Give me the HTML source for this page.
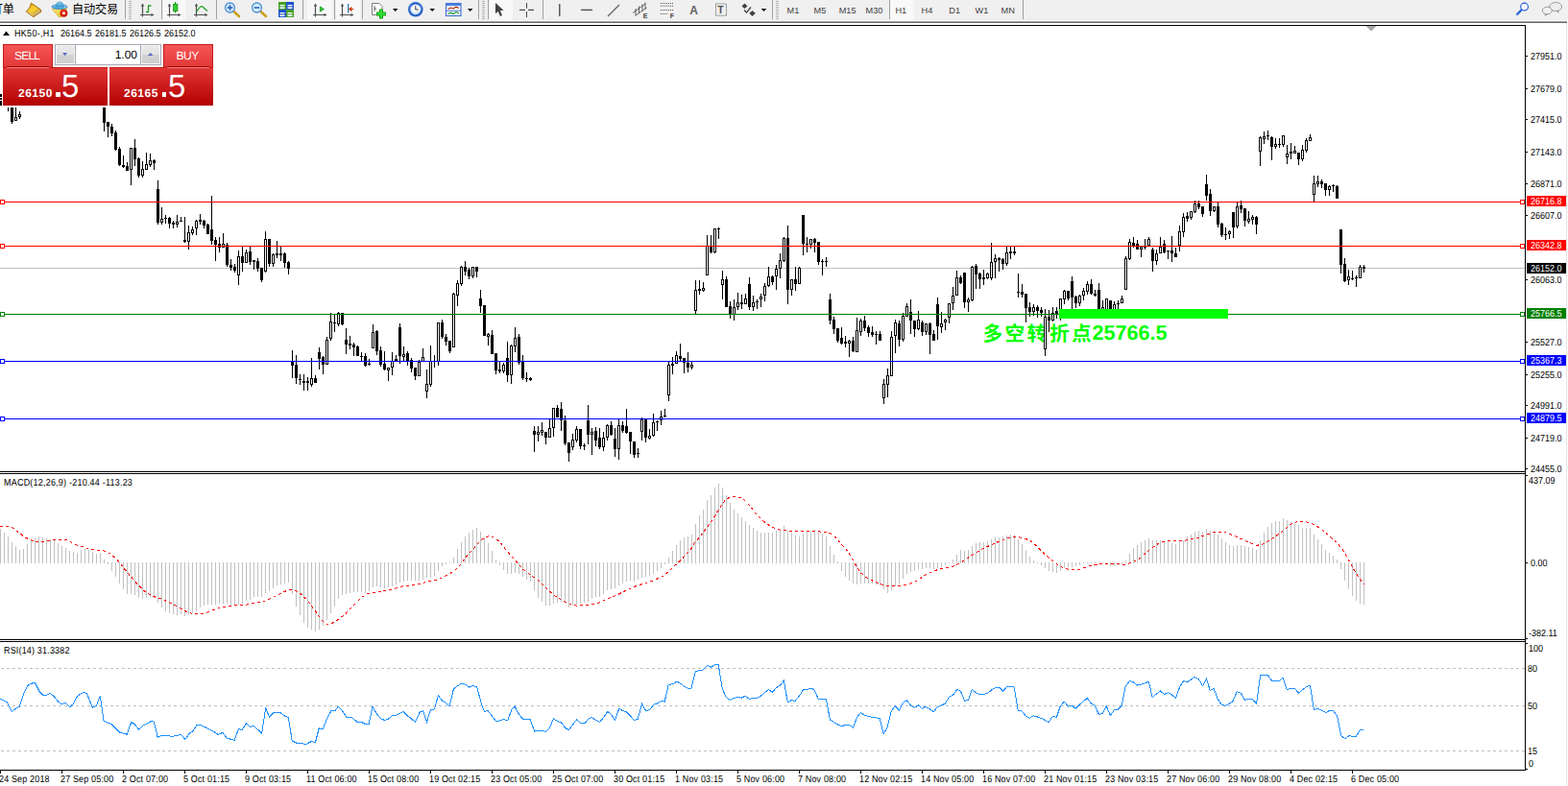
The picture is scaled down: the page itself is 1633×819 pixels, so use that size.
<!DOCTYPE html>
<html><head><meta charset="utf-8"><title>HK50-,H1</title>
<style>
html,body{margin:0;padding:0;background:#fff;}
body{width:1633px;height:819px;position:relative;overflow:hidden;font-family:"Liberation Sans", sans-serif;}
.t{position:absolute;white-space:pre;font-family:"Liberation Sans", sans-serif;font-size:10.2px;line-height:9px;color:#000;transform:scaleX(0.882);transform-origin:0 0;text-rendering:geometricPrecision;}
.n{transform:none;}
.ax{left:1594px;}
svg{position:absolute;left:0;top:0;}
.lb{position:absolute;left:1590px;width:41px;height:11px;color:#fff;font-size:10.2px;line-height:9px;text-rendering:geometricPrecision;}
.lb span{position:absolute;left:4px;top:2px;transform:scaleX(0.882);transform-origin:0 0;}
</style></head><body>

<div style="position:absolute;left:0;top:0;width:1633px;height:22px;background:#f0f0f0"></div>
<div style="position:absolute;left:0;top:21px;width:1633px;height:1px;background:#f6f6f6"></div>
<div style="position:absolute;left:0;top:22px;width:1632px;height:1px;background:#a4a4a4"></div>
<div style="position:absolute;left:0;top:23px;width:1632px;height:1px;background:#696969"></div>
<svg width="1633" height="819" viewBox="0 0 1633 819">
<text x="1023.4 1046.5 1069.6 1093.1 1116.1" y="354.5" font-family='"Liberation Sans", "Noto Sans CJK SC", sans-serif' font-size="20.7" font-weight="bold" fill="#00ff00">多空转折点</text>
</svg>
<div class="t n" style="left:1137.4px;top:334.6px;font-size:21.6px;line-height:24px;font-weight:bold;color:#00ff00">25766.5</div>
<svg width="1633" height="819" viewBox="0 0 1633 819" shape-rendering="crispEdges">
<rect x="0" y="551" width="1" height="36" fill="#c0c0c0"/>
<rect x="4" y="555" width="1" height="32" fill="#c0c0c0"/>
<rect x="8" y="559" width="1" height="28" fill="#c0c0c0"/>
<rect x="12" y="565" width="1" height="22" fill="#c0c0c0"/>
<rect x="16" y="569" width="1" height="18" fill="#c0c0c0"/>
<rect x="20" y="573" width="1" height="14" fill="#c0c0c0"/>
<rect x="24" y="572" width="1" height="15" fill="#c0c0c0"/>
<rect x="28" y="567" width="1" height="20" fill="#c0c0c0"/>
<rect x="32" y="563" width="1" height="24" fill="#c0c0c0"/>
<rect x="36" y="560" width="1" height="27" fill="#c0c0c0"/>
<rect x="40" y="559" width="1" height="28" fill="#c0c0c0"/>
<rect x="44" y="560" width="1" height="27" fill="#c0c0c0"/>
<rect x="48" y="561" width="1" height="26" fill="#c0c0c0"/>
<rect x="52" y="562" width="1" height="25" fill="#c0c0c0"/>
<rect x="56" y="563" width="1" height="24" fill="#c0c0c0"/>
<rect x="60" y="566" width="1" height="21" fill="#c0c0c0"/>
<rect x="64" y="569" width="1" height="18" fill="#c0c0c0"/>
<rect x="68" y="571" width="1" height="16" fill="#c0c0c0"/>
<rect x="72" y="574" width="1" height="13" fill="#c0c0c0"/>
<rect x="76" y="575" width="1" height="12" fill="#c0c0c0"/>
<rect x="80" y="576" width="1" height="11" fill="#c0c0c0"/>
<rect x="84" y="573" width="1" height="14" fill="#c0c0c0"/>
<rect x="88" y="572" width="1" height="15" fill="#c0c0c0"/>
<rect x="92" y="573" width="1" height="14" fill="#c0c0c0"/>
<rect x="96" y="575" width="1" height="12" fill="#c0c0c0"/>
<rect x="100" y="577" width="1" height="10" fill="#c0c0c0"/>
<rect x="104" y="576" width="1" height="11" fill="#c0c0c0"/>
<rect x="108" y="583" width="1" height="4" fill="#c0c0c0"/>
<rect x="112" y="586" width="1" height="2" fill="#c0c0c0"/>
<rect x="116" y="586" width="1" height="9" fill="#c0c0c0"/>
<rect x="120" y="586" width="1" height="15" fill="#c0c0c0"/>
<rect x="124" y="586" width="1" height="22" fill="#c0c0c0"/>
<rect x="128" y="586" width="1" height="28" fill="#c0c0c0"/>
<rect x="132" y="586" width="1" height="33" fill="#c0c0c0"/>
<rect x="136" y="586" width="1" height="33" fill="#c0c0c0"/>
<rect x="140" y="586" width="1" height="34" fill="#c0c0c0"/>
<rect x="144" y="586" width="1" height="37" fill="#c0c0c0"/>
<rect x="148" y="586" width="1" height="38" fill="#c0c0c0"/>
<rect x="152" y="586" width="1" height="37" fill="#c0c0c0"/>
<rect x="156" y="586" width="1" height="36" fill="#c0c0c0"/>
<rect x="160" y="586" width="1" height="36" fill="#c0c0c0"/>
<rect x="164" y="586" width="1" height="42" fill="#c0c0c0"/>
<rect x="168" y="586" width="1" height="47" fill="#c0c0c0"/>
<rect x="172" y="586" width="1" height="51" fill="#c0c0c0"/>
<rect x="176" y="586" width="1" height="53" fill="#c0c0c0"/>
<rect x="180" y="586" width="1" height="54" fill="#c0c0c0"/>
<rect x="184" y="586" width="1" height="55" fill="#c0c0c0"/>
<rect x="188" y="586" width="1" height="54" fill="#c0c0c0"/>
<rect x="192" y="586" width="1" height="56" fill="#c0c0c0"/>
<rect x="196" y="586" width="1" height="54" fill="#c0c0c0"/>
<rect x="200" y="586" width="1" height="53" fill="#c0c0c0"/>
<rect x="204" y="586" width="1" height="51" fill="#c0c0c0"/>
<rect x="208" y="586" width="1" height="47" fill="#c0c0c0"/>
<rect x="212" y="586" width="1" height="45" fill="#c0c0c0"/>
<rect x="216" y="586" width="1" height="44" fill="#c0c0c0"/>
<rect x="220" y="586" width="1" height="44" fill="#c0c0c0"/>
<rect x="224" y="586" width="1" height="44" fill="#c0c0c0"/>
<rect x="228" y="586" width="1" height="43" fill="#c0c0c0"/>
<rect x="232" y="586" width="1" height="43" fill="#c0c0c0"/>
<rect x="236" y="586" width="1" height="43" fill="#c0c0c0"/>
<rect x="240" y="586" width="1" height="45" fill="#c0c0c0"/>
<rect x="244" y="586" width="1" height="45" fill="#c0c0c0"/>
<rect x="248" y="586" width="1" height="44" fill="#c0c0c0"/>
<rect x="252" y="586" width="1" height="43" fill="#c0c0c0"/>
<rect x="256" y="586" width="1" height="40" fill="#c0c0c0"/>
<rect x="260" y="586" width="1" height="39" fill="#c0c0c0"/>
<rect x="264" y="586" width="1" height="36" fill="#c0c0c0"/>
<rect x="268" y="586" width="1" height="36" fill="#c0c0c0"/>
<rect x="272" y="586" width="1" height="36" fill="#c0c0c0"/>
<rect x="276" y="586" width="1" height="32" fill="#c0c0c0"/>
<rect x="280" y="586" width="1" height="30" fill="#c0c0c0"/>
<rect x="284" y="586" width="1" height="27" fill="#c0c0c0"/>
<rect x="288" y="586" width="1" height="24" fill="#c0c0c0"/>
<rect x="292" y="586" width="1" height="23" fill="#c0c0c0"/>
<rect x="296" y="586" width="1" height="22" fill="#c0c0c0"/>
<rect x="300" y="586" width="1" height="21" fill="#c0c0c0"/>
<rect x="304" y="586" width="1" height="33" fill="#c0c0c0"/>
<rect x="308" y="586" width="1" height="46" fill="#c0c0c0"/>
<rect x="312" y="586" width="1" height="55" fill="#c0c0c0"/>
<rect x="316" y="586" width="1" height="63" fill="#c0c0c0"/>
<rect x="320" y="586" width="1" height="68" fill="#c0c0c0"/>
<rect x="324" y="586" width="1" height="70" fill="#c0c0c0"/>
<rect x="328" y="586" width="1" height="72" fill="#c0c0c0"/>
<rect x="332" y="586" width="1" height="70" fill="#c0c0c0"/>
<rect x="336" y="586" width="1" height="66" fill="#c0c0c0"/>
<rect x="340" y="586" width="1" height="60" fill="#c0c0c0"/>
<rect x="344" y="586" width="1" height="53" fill="#c0c0c0"/>
<rect x="348" y="586" width="1" height="46" fill="#c0c0c0"/>
<rect x="352" y="586" width="1" height="38" fill="#c0c0c0"/>
<rect x="356" y="586" width="1" height="34" fill="#c0c0c0"/>
<rect x="360" y="586" width="1" height="33" fill="#c0c0c0"/>
<rect x="364" y="586" width="1" height="32" fill="#c0c0c0"/>
<rect x="368" y="586" width="1" height="31" fill="#c0c0c0"/>
<rect x="372" y="586" width="1" height="31" fill="#c0c0c0"/>
<rect x="376" y="586" width="1" height="31" fill="#c0c0c0"/>
<rect x="380" y="586" width="1" height="32" fill="#c0c0c0"/>
<rect x="384" y="586" width="1" height="30" fill="#c0c0c0"/>
<rect x="388" y="586" width="1" height="26" fill="#c0c0c0"/>
<rect x="392" y="586" width="1" height="25" fill="#c0c0c0"/>
<rect x="396" y="586" width="1" height="26" fill="#c0c0c0"/>
<rect x="400" y="586" width="1" height="27" fill="#c0c0c0"/>
<rect x="404" y="586" width="1" height="26" fill="#c0c0c0"/>
<rect x="408" y="586" width="1" height="25" fill="#c0c0c0"/>
<rect x="412" y="586" width="1" height="23" fill="#c0c0c0"/>
<rect x="416" y="586" width="1" height="21" fill="#c0c0c0"/>
<rect x="420" y="586" width="1" height="20" fill="#c0c0c0"/>
<rect x="424" y="586" width="1" height="19" fill="#c0c0c0"/>
<rect x="428" y="586" width="1" height="19" fill="#c0c0c0"/>
<rect x="432" y="586" width="1" height="19" fill="#c0c0c0"/>
<rect x="436" y="586" width="1" height="19" fill="#c0c0c0"/>
<rect x="440" y="586" width="1" height="18" fill="#c0c0c0"/>
<rect x="444" y="586" width="1" height="16" fill="#c0c0c0"/>
<rect x="448" y="586" width="1" height="16" fill="#c0c0c0"/>
<rect x="452" y="586" width="1" height="14" fill="#c0c0c0"/>
<rect x="456" y="586" width="1" height="9" fill="#c0c0c0"/>
<rect x="460" y="586" width="1" height="4" fill="#c0c0c0"/>
<rect x="464" y="586" width="1" height="2" fill="#c0c0c0"/>
<rect x="468" y="586" width="1" height="1" fill="#c0c0c0"/>
<rect x="472" y="581" width="1" height="6" fill="#c0c0c0"/>
<rect x="476" y="572" width="1" height="15" fill="#c0c0c0"/>
<rect x="480" y="565" width="1" height="22" fill="#c0c0c0"/>
<rect x="484" y="559" width="1" height="28" fill="#c0c0c0"/>
<rect x="488" y="555" width="1" height="32" fill="#c0c0c0"/>
<rect x="492" y="552" width="1" height="35" fill="#c0c0c0"/>
<rect x="496" y="550" width="1" height="37" fill="#c0c0c0"/>
<rect x="500" y="554" width="1" height="33" fill="#c0c0c0"/>
<rect x="504" y="560" width="1" height="27" fill="#c0c0c0"/>
<rect x="508" y="566" width="1" height="21" fill="#c0c0c0"/>
<rect x="512" y="574" width="1" height="13" fill="#c0c0c0"/>
<rect x="516" y="583" width="1" height="4" fill="#c0c0c0"/>
<rect x="520" y="586" width="1" height="3" fill="#c0c0c0"/>
<rect x="524" y="586" width="1" height="8" fill="#c0c0c0"/>
<rect x="528" y="586" width="1" height="12" fill="#c0c0c0"/>
<rect x="532" y="586" width="1" height="12" fill="#c0c0c0"/>
<rect x="536" y="586" width="1" height="11" fill="#c0c0c0"/>
<rect x="540" y="586" width="1" height="12" fill="#c0c0c0"/>
<rect x="544" y="586" width="1" height="15" fill="#c0c0c0"/>
<rect x="548" y="586" width="1" height="18" fill="#c0c0c0"/>
<rect x="552" y="586" width="1" height="20" fill="#c0c0c0"/>
<rect x="556" y="586" width="1" height="29" fill="#c0c0c0"/>
<rect x="560" y="586" width="1" height="37" fill="#c0c0c0"/>
<rect x="564" y="586" width="1" height="41" fill="#c0c0c0"/>
<rect x="568" y="586" width="1" height="45" fill="#c0c0c0"/>
<rect x="572" y="586" width="1" height="45" fill="#c0c0c0"/>
<rect x="576" y="586" width="1" height="43" fill="#c0c0c0"/>
<rect x="580" y="586" width="1" height="42" fill="#c0c0c0"/>
<rect x="584" y="586" width="1" height="41" fill="#c0c0c0"/>
<rect x="588" y="586" width="1" height="43" fill="#c0c0c0"/>
<rect x="592" y="586" width="1" height="47" fill="#c0c0c0"/>
<rect x="596" y="586" width="1" height="45" fill="#c0c0c0"/>
<rect x="600" y="586" width="1" height="44" fill="#c0c0c0"/>
<rect x="604" y="586" width="1" height="43" fill="#c0c0c0"/>
<rect x="608" y="586" width="1" height="42" fill="#c0c0c0"/>
<rect x="612" y="586" width="1" height="41" fill="#c0c0c0"/>
<rect x="616" y="586" width="1" height="38" fill="#c0c0c0"/>
<rect x="620" y="586" width="1" height="36" fill="#c0c0c0"/>
<rect x="624" y="586" width="1" height="36" fill="#c0c0c0"/>
<rect x="628" y="586" width="1" height="33" fill="#c0c0c0"/>
<rect x="632" y="586" width="1" height="29" fill="#c0c0c0"/>
<rect x="636" y="586" width="1" height="28" fill="#c0c0c0"/>
<rect x="640" y="586" width="1" height="27" fill="#c0c0c0"/>
<rect x="644" y="586" width="1" height="24" fill="#c0c0c0"/>
<rect x="648" y="586" width="1" height="22" fill="#c0c0c0"/>
<rect x="652" y="586" width="1" height="20" fill="#c0c0c0"/>
<rect x="656" y="586" width="1" height="19" fill="#c0c0c0"/>
<rect x="660" y="586" width="1" height="20" fill="#c0c0c0"/>
<rect x="664" y="586" width="1" height="18" fill="#c0c0c0"/>
<rect x="668" y="586" width="1" height="16" fill="#c0c0c0"/>
<rect x="672" y="586" width="1" height="15" fill="#c0c0c0"/>
<rect x="676" y="586" width="1" height="14" fill="#c0c0c0"/>
<rect x="680" y="586" width="1" height="12" fill="#c0c0c0"/>
<rect x="684" y="586" width="1" height="9" fill="#c0c0c0"/>
<rect x="688" y="586" width="1" height="6" fill="#c0c0c0"/>
<rect x="692" y="586" width="1" height="2" fill="#c0c0c0"/>
<rect x="696" y="581" width="1" height="6" fill="#c0c0c0"/>
<rect x="700" y="574" width="1" height="13" fill="#c0c0c0"/>
<rect x="704" y="568" width="1" height="19" fill="#c0c0c0"/>
<rect x="708" y="563" width="1" height="24" fill="#c0c0c0"/>
<rect x="712" y="560" width="1" height="27" fill="#c0c0c0"/>
<rect x="716" y="559" width="1" height="28" fill="#c0c0c0"/>
<rect x="720" y="557" width="1" height="30" fill="#c0c0c0"/>
<rect x="724" y="546" width="1" height="41" fill="#c0c0c0"/>
<rect x="728" y="537" width="1" height="50" fill="#c0c0c0"/>
<rect x="732" y="531" width="1" height="56" fill="#c0c0c0"/>
<rect x="736" y="521" width="1" height="66" fill="#c0c0c0"/>
<rect x="740" y="516" width="1" height="71" fill="#c0c0c0"/>
<rect x="744" y="508" width="1" height="79" fill="#c0c0c0"/>
<rect x="748" y="504" width="1" height="83" fill="#c0c0c0"/>
<rect x="752" y="508" width="1" height="79" fill="#c0c0c0"/>
<rect x="756" y="516" width="1" height="71" fill="#c0c0c0"/>
<rect x="760" y="524" width="1" height="63" fill="#c0c0c0"/>
<rect x="764" y="531" width="1" height="56" fill="#c0c0c0"/>
<rect x="768" y="535" width="1" height="52" fill="#c0c0c0"/>
<rect x="772" y="539" width="1" height="48" fill="#c0c0c0"/>
<rect x="776" y="543" width="1" height="44" fill="#c0c0c0"/>
<rect x="780" y="547" width="1" height="40" fill="#c0c0c0"/>
<rect x="784" y="550" width="1" height="37" fill="#c0c0c0"/>
<rect x="788" y="553" width="1" height="34" fill="#c0c0c0"/>
<rect x="792" y="555" width="1" height="32" fill="#c0c0c0"/>
<rect x="796" y="555" width="1" height="32" fill="#c0c0c0"/>
<rect x="800" y="555" width="1" height="32" fill="#c0c0c0"/>
<rect x="804" y="555" width="1" height="32" fill="#c0c0c0"/>
<rect x="808" y="553" width="1" height="34" fill="#c0c0c0"/>
<rect x="812" y="552" width="1" height="35" fill="#c0c0c0"/>
<rect x="816" y="548" width="1" height="39" fill="#c0c0c0"/>
<rect x="820" y="553" width="1" height="34" fill="#c0c0c0"/>
<rect x="824" y="555" width="1" height="32" fill="#c0c0c0"/>
<rect x="828" y="558" width="1" height="29" fill="#c0c0c0"/>
<rect x="832" y="559" width="1" height="28" fill="#c0c0c0"/>
<rect x="836" y="556" width="1" height="31" fill="#c0c0c0"/>
<rect x="840" y="554" width="1" height="33" fill="#c0c0c0"/>
<rect x="844" y="553" width="1" height="34" fill="#c0c0c0"/>
<rect x="848" y="552" width="1" height="35" fill="#c0c0c0"/>
<rect x="852" y="554" width="1" height="33" fill="#c0c0c0"/>
<rect x="856" y="556" width="1" height="31" fill="#c0c0c0"/>
<rect x="860" y="559" width="1" height="28" fill="#c0c0c0"/>
<rect x="864" y="569" width="1" height="18" fill="#c0c0c0"/>
<rect x="868" y="578" width="1" height="9" fill="#c0c0c0"/>
<rect x="872" y="585" width="1" height="2" fill="#c0c0c0"/>
<rect x="876" y="586" width="1" height="9" fill="#c0c0c0"/>
<rect x="880" y="586" width="1" height="15" fill="#c0c0c0"/>
<rect x="884" y="586" width="1" height="19" fill="#c0c0c0"/>
<rect x="888" y="586" width="1" height="22" fill="#c0c0c0"/>
<rect x="892" y="586" width="1" height="23" fill="#c0c0c0"/>
<rect x="896" y="586" width="1" height="22" fill="#c0c0c0"/>
<rect x="900" y="586" width="1" height="22" fill="#c0c0c0"/>
<rect x="904" y="586" width="1" height="22" fill="#c0c0c0"/>
<rect x="908" y="586" width="1" height="22" fill="#c0c0c0"/>
<rect x="912" y="586" width="1" height="23" fill="#c0c0c0"/>
<rect x="916" y="586" width="1" height="24" fill="#c0c0c0"/>
<rect x="920" y="586" width="1" height="28" fill="#c0c0c0"/>
<rect x="924" y="586" width="1" height="32" fill="#c0c0c0"/>
<rect x="928" y="586" width="1" height="29" fill="#c0c0c0"/>
<rect x="932" y="586" width="1" height="25" fill="#c0c0c0"/>
<rect x="936" y="586" width="1" height="22" fill="#c0c0c0"/>
<rect x="940" y="586" width="1" height="17" fill="#c0c0c0"/>
<rect x="944" y="586" width="1" height="12" fill="#c0c0c0"/>
<rect x="948" y="586" width="1" height="10" fill="#c0c0c0"/>
<rect x="952" y="586" width="1" height="9" fill="#c0c0c0"/>
<rect x="956" y="586" width="1" height="7" fill="#c0c0c0"/>
<rect x="960" y="586" width="1" height="7" fill="#c0c0c0"/>
<rect x="964" y="586" width="1" height="6" fill="#c0c0c0"/>
<rect x="968" y="586" width="1" height="6" fill="#c0c0c0"/>
<rect x="972" y="586" width="1" height="7" fill="#c0c0c0"/>
<rect x="976" y="586" width="1" height="6" fill="#c0c0c0"/>
<rect x="980" y="586" width="1" height="5" fill="#c0c0c0"/>
<rect x="984" y="586" width="1" height="3" fill="#c0c0c0"/>
<rect x="988" y="586" width="1" height="1" fill="#c0c0c0"/>
<rect x="992" y="583" width="1" height="4" fill="#c0c0c0"/>
<rect x="996" y="578" width="1" height="9" fill="#c0c0c0"/>
<rect x="1000" y="573" width="1" height="14" fill="#c0c0c0"/>
<rect x="1004" y="574" width="1" height="13" fill="#c0c0c0"/>
<rect x="1008" y="573" width="1" height="14" fill="#c0c0c0"/>
<rect x="1012" y="569" width="1" height="18" fill="#c0c0c0"/>
<rect x="1016" y="566" width="1" height="21" fill="#c0c0c0"/>
<rect x="1020" y="565" width="1" height="22" fill="#c0c0c0"/>
<rect x="1024" y="565" width="1" height="22" fill="#c0c0c0"/>
<rect x="1028" y="564" width="1" height="23" fill="#c0c0c0"/>
<rect x="1032" y="562" width="1" height="25" fill="#c0c0c0"/>
<rect x="1036" y="560" width="1" height="27" fill="#c0c0c0"/>
<rect x="1040" y="560" width="1" height="27" fill="#c0c0c0"/>
<rect x="1044" y="559" width="1" height="28" fill="#c0c0c0"/>
<rect x="1048" y="558" width="1" height="29" fill="#c0c0c0"/>
<rect x="1052" y="557" width="1" height="30" fill="#c0c0c0"/>
<rect x="1056" y="557" width="1" height="30" fill="#c0c0c0"/>
<rect x="1060" y="562" width="1" height="25" fill="#c0c0c0"/>
<rect x="1064" y="567" width="1" height="20" fill="#c0c0c0"/>
<rect x="1068" y="573" width="1" height="14" fill="#c0c0c0"/>
<rect x="1072" y="580" width="1" height="7" fill="#c0c0c0"/>
<rect x="1076" y="584" width="1" height="3" fill="#c0c0c0"/>
<rect x="1080" y="586" width="1" height="1" fill="#c0c0c0"/>
<rect x="1084" y="586" width="1" height="3" fill="#c0c0c0"/>
<rect x="1088" y="586" width="1" height="6" fill="#c0c0c0"/>
<rect x="1092" y="586" width="1" height="9" fill="#c0c0c0"/>
<rect x="1096" y="586" width="1" height="10" fill="#c0c0c0"/>
<rect x="1100" y="586" width="1" height="11" fill="#c0c0c0"/>
<rect x="1104" y="586" width="1" height="9" fill="#c0c0c0"/>
<rect x="1108" y="586" width="1" height="6" fill="#c0c0c0"/>
<rect x="1112" y="586" width="1" height="5" fill="#c0c0c0"/>
<rect x="1116" y="586" width="1" height="5" fill="#c0c0c0"/>
<rect x="1120" y="586" width="1" height="4" fill="#c0c0c0"/>
<rect x="1124" y="586" width="1" height="3" fill="#c0c0c0"/>
<rect x="1128" y="586" width="1" height="1" fill="#c0c0c0"/>
<rect x="1132" y="586" width="1" height="1" fill="#c0c0c0"/>
<rect x="1136" y="586" width="1" height="1" fill="#c0c0c0"/>
<rect x="1140" y="586" width="1" height="1" fill="#c0c0c0"/>
<rect x="1144" y="586" width="1" height="1" fill="#c0c0c0"/>
<rect x="1148" y="586" width="1" height="1" fill="#c0c0c0"/>
<rect x="1152" y="586" width="1" height="2" fill="#c0c0c0"/>
<rect x="1156" y="586" width="1" height="4" fill="#c0c0c0"/>
<rect x="1160" y="586" width="1" height="4" fill="#c0c0c0"/>
<rect x="1164" y="586" width="1" height="3" fill="#c0c0c0"/>
<rect x="1168" y="586" width="1" height="2" fill="#c0c0c0"/>
<rect x="1172" y="584" width="1" height="3" fill="#c0c0c0"/>
<rect x="1176" y="577" width="1" height="10" fill="#c0c0c0"/>
<rect x="1180" y="571" width="1" height="16" fill="#c0c0c0"/>
<rect x="1184" y="568" width="1" height="19" fill="#c0c0c0"/>
<rect x="1188" y="565" width="1" height="22" fill="#c0c0c0"/>
<rect x="1192" y="563" width="1" height="24" fill="#c0c0c0"/>
<rect x="1196" y="561" width="1" height="26" fill="#c0c0c0"/>
<rect x="1200" y="563" width="1" height="24" fill="#c0c0c0"/>
<rect x="1204" y="563" width="1" height="24" fill="#c0c0c0"/>
<rect x="1208" y="563" width="1" height="24" fill="#c0c0c0"/>
<rect x="1212" y="564" width="1" height="23" fill="#c0c0c0"/>
<rect x="1216" y="564" width="1" height="23" fill="#c0c0c0"/>
<rect x="1220" y="566" width="1" height="21" fill="#c0c0c0"/>
<rect x="1224" y="567" width="1" height="20" fill="#c0c0c0"/>
<rect x="1228" y="565" width="1" height="22" fill="#c0c0c0"/>
<rect x="1232" y="563" width="1" height="24" fill="#c0c0c0"/>
<rect x="1236" y="559" width="1" height="28" fill="#c0c0c0"/>
<rect x="1240" y="557" width="1" height="30" fill="#c0c0c0"/>
<rect x="1244" y="554" width="1" height="33" fill="#c0c0c0"/>
<rect x="1248" y="553" width="1" height="34" fill="#c0c0c0"/>
<rect x="1252" y="554" width="1" height="33" fill="#c0c0c0"/>
<rect x="1256" y="551" width="1" height="36" fill="#c0c0c0"/>
<rect x="1260" y="553" width="1" height="34" fill="#c0c0c0"/>
<rect x="1264" y="555" width="1" height="32" fill="#c0c0c0"/>
<rect x="1268" y="557" width="1" height="30" fill="#c0c0c0"/>
<rect x="1272" y="561" width="1" height="26" fill="#c0c0c0"/>
<rect x="1276" y="565" width="1" height="22" fill="#c0c0c0"/>
<rect x="1280" y="568" width="1" height="19" fill="#c0c0c0"/>
<rect x="1284" y="569" width="1" height="18" fill="#c0c0c0"/>
<rect x="1288" y="568" width="1" height="19" fill="#c0c0c0"/>
<rect x="1292" y="568" width="1" height="19" fill="#c0c0c0"/>
<rect x="1296" y="569" width="1" height="18" fill="#c0c0c0"/>
<rect x="1300" y="570" width="1" height="17" fill="#c0c0c0"/>
<rect x="1304" y="571" width="1" height="16" fill="#c0c0c0"/>
<rect x="1308" y="573" width="1" height="14" fill="#c0c0c0"/>
<rect x="1312" y="563" width="1" height="24" fill="#c0c0c0"/>
<rect x="1316" y="555" width="1" height="32" fill="#c0c0c0"/>
<rect x="1320" y="549" width="1" height="38" fill="#c0c0c0"/>
<rect x="1324" y="545" width="1" height="42" fill="#c0c0c0"/>
<rect x="1328" y="543" width="1" height="44" fill="#c0c0c0"/>
<rect x="1332" y="543" width="1" height="44" fill="#c0c0c0"/>
<rect x="1336" y="540" width="1" height="47" fill="#c0c0c0"/>
<rect x="1340" y="542" width="1" height="45" fill="#c0c0c0"/>
<rect x="1344" y="544" width="1" height="43" fill="#c0c0c0"/>
<rect x="1348" y="545" width="1" height="42" fill="#c0c0c0"/>
<rect x="1352" y="547" width="1" height="40" fill="#c0c0c0"/>
<rect x="1356" y="550" width="1" height="37" fill="#c0c0c0"/>
<rect x="1360" y="550" width="1" height="37" fill="#c0c0c0"/>
<rect x="1364" y="550" width="1" height="37" fill="#c0c0c0"/>
<rect x="1368" y="557" width="1" height="30" fill="#c0c0c0"/>
<rect x="1372" y="562" width="1" height="25" fill="#c0c0c0"/>
<rect x="1376" y="567" width="1" height="20" fill="#c0c0c0"/>
<rect x="1380" y="573" width="1" height="14" fill="#c0c0c0"/>
<rect x="1384" y="576" width="1" height="11" fill="#c0c0c0"/>
<rect x="1388" y="579" width="1" height="8" fill="#c0c0c0"/>
<rect x="1392" y="583" width="1" height="4" fill="#c0c0c0"/>
<rect x="1396" y="586" width="1" height="7" fill="#c0c0c0"/>
<rect x="1400" y="586" width="1" height="19" fill="#c0c0c0"/>
<rect x="1404" y="586" width="1" height="28" fill="#c0c0c0"/>
<rect x="1408" y="586" width="1" height="35" fill="#c0c0c0"/>
<rect x="1412" y="586" width="1" height="40" fill="#c0c0c0"/>
<rect x="1416" y="586" width="1" height="43" fill="#c0c0c0"/>
<rect x="1420" y="586" width="1" height="44" fill="#c0c0c0"/>
<polyline points="0.0,548.4 8.8,548.4 14.3,550.6 19.8,555.0 25.4,559.4 30.9,562.3 36.4,564.3 48.5,564.3 55.1,562.3 68.3,562.3 73.9,565.0 80.5,568.3 88.2,570.5 94.8,572.7 103.6,573.3 110.2,574.4 116.8,578.2 123.5,584.8 130.1,593.6 136.7,601.3 143.3,609.0 152.1,617.4 158.7,621.2 167.5,623.8 176.4,627.8 185.2,632.2 194.0,637.3 200.6,639.5 211.6,639.5 220.5,636.2 229.3,633.3 238.1,631.5 246.9,630.6 255.7,630.2 264.5,628.4 273.4,627.1 282.2,623.4 291.0,619.0 299.8,615.0 306.4,614.8 313.0,618.3 321.9,627.8 330.7,639.9 336.2,647.6 340.6,650.3 346.1,649.2 352.7,645.4 360.0,639.5 363.3,635.5 369.9,628.9 376.5,622.3 382.0,619.0 388.7,617.4 401.9,615.7 410.7,613.5 419.5,610.8 437.2,608.6 446.0,605.7 454.8,604.2 463.6,600.2 472.4,595.4 479.0,589.2 485.7,579.9 492.3,572.7 498.9,565.0 504.4,560.1 509.9,558.3 515.4,560.5 520.9,565.0 527.5,573.8 536.4,583.7 545.2,593.6 554.0,600.2 560.6,604.6 569.4,613.5 578.2,621.2 587.1,626.7 593.7,629.3 600.3,631.1 609.1,630.4 622.3,628.9 631.2,624.5 642.2,620.1 653.2,614.6 662.0,610.8 670.8,607.9 679.7,605.1 690.7,600.2 699.5,592.5 708.3,584.4 714.9,577.1 720.0,571.6 722.2,567.2 728.8,559.4 735.4,550.6 742.0,541.8 748.7,530.8 755.3,520.9 760.8,517.6 766.3,517.1 771.8,518.7 777.3,523.1 782.8,529.2 788.3,536.7 795.0,542.9 801.6,547.8 808.2,551.3 814.8,552.4 825.8,553.3 847.9,553.5 858.9,554.4 865.5,556.1 871.0,560.5 876.5,567.6 882.0,573.3 886.4,580.4 892.0,590.3 896.4,596.9 901.9,601.3 909.6,605.7 918.4,609.0 927.2,610.8 937.1,610.8 947.1,608.6 955.9,604.6 962.5,599.8 971.3,595.4 980.1,592.5 992.3,590.3 1000.0,586.6 1008.8,580.8 1019.8,573.8 1030.8,568.3 1039.7,564.5 1048.5,561.0 1057.3,559.4 1065.0,560.5 1071.6,562.7 1077.1,566.7 1080.0,569.4 1086.6,576.0 1093.2,582.1 1099.8,587.0 1106.5,591.4 1113.1,593.2 1124.1,593.2 1132.9,590.3 1143.9,588.1 1152.7,587.0 1172.6,588.5 1179.2,585.9 1185.8,582.6 1192.4,577.1 1200.1,570.5 1207.9,565.4 1216.7,563.4 1234.3,563.2 1247.5,560.5 1256.4,557.2 1265.2,554.4 1275.1,554.4 1282.8,557.2 1291.6,561.0 1300.5,565.0 1308.2,568.3 1313.7,567.6 1320.3,563.9 1329.1,558.3 1337.9,551.7 1344.5,546.2 1351.2,543.6 1358.9,543.3 1366.6,545.6 1375.4,550.6 1384.2,558.3 1393.0,566.1 1399.7,574.9 1405.2,584.8 1410.7,594.7 1415.1,601.3 1420.6,609.0" fill="none" stroke="#ff0000" stroke-width="1" stroke-dasharray="3 3"/>
<line x1="0" y1="696.5" x2="1588" y2="696.5" stroke="#c0c0c0" stroke-width="1" stroke-dasharray="3 3" stroke-dashoffset="-1"/>
<line x1="0" y1="735.5" x2="1588" y2="735.5" stroke="#c0c0c0" stroke-width="1" stroke-dasharray="3 3" stroke-dashoffset="-1"/>
<line x1="0" y1="782.5" x2="1588" y2="782.5" stroke="#c0c0c0" stroke-width="1" stroke-dasharray="3 3" stroke-dashoffset="-1"/>
<polyline points="0.0,728.3 4.4,730.0 7.7,732.2 12.1,741.5 16.5,738.2 20.3,736.6 24.2,724.1 28.7,714.6 32.0,712.4 36.4,711.3 40.8,720.1 45.2,724.5 48.5,724.1 52.2,722.3 56.2,725.6 60.6,731.1 63.9,733.8 67.9,732.2 72.7,736.6 76.1,733.8 80.5,725.6 84.9,722.3 88.2,721.2 90.8,723.4 96.3,737.3 100.3,735.5 104.3,725.0 108.0,751.0 111.3,752.7 115.7,754.3 120.1,758.7 124.6,763.1 129.0,764.2 132.3,765.3 136.7,752.5 140.0,754.3 144.4,760.2 149.9,755.4 154.3,753.2 157.6,751.4 160.3,752.1 164.2,768.2 168.6,766.4 174.2,766.4 178.6,767.5 184.1,766.4 188.5,765.3 192.9,770.4 197.3,764.2 200.6,762.0 205.0,755.4 209.4,755.8 213.8,757.6 218.2,760.2 222.7,762.4 227.1,765.3 231.9,763.5 236.3,769.3 240.3,770.2 244.0,771.5 248.5,759.4 252.0,760.9 256.2,753.6 260.6,757.6 264.1,756.0 268.5,760.2 272.7,764.2 276.7,737.3 280.4,747.2 284.8,742.6 292.1,742.6 296.5,746.1 300.3,747.7 304.2,771.9 308.6,774.1 314.1,774.6 318.6,775.7 324.1,772.6 328.5,773.5 332.2,758.7 336.2,759.8 340.6,748.8 345.0,740.6 349.0,740.6 352.1,736.2 356.0,740.0 360.0,746.1 360.0,747.2 366.6,747.7 372.1,752.5 376.5,752.5 380.9,754.7 384.2,754.3 388.0,736.2 392.0,743.3 396.4,748.8 400.8,750.5 404.1,749.4 408.9,745.5 412.2,745.5 420.0,741.5 423.9,745.5 427.9,748.3 432.3,752.5 437.2,742.2 440.5,740.6 444.4,752.5 448.2,740.0 452.6,738.9 456.3,724.5 460.3,730.0 464.3,732.2 468.0,736.2 472.4,717.9 476.8,714.6 480.8,712.0 484.6,713.1 488.5,716.1 492.3,714.2 496.7,716.1 501.1,732.2 504.4,741.5 508.1,740.6 512.1,745.5 516.5,751.4 520.5,751.0 524.2,749.4 528.6,751.0 533.1,738.9 536.4,736.2 539.7,743.3 544.7,749.4 552.2,749.4 556.6,762.0 560.6,761.3 565.5,761.3 568.3,762.7 572.3,758.7 576.5,748.8 580.5,751.4 584.4,752.7 588.8,758.7 592.6,760.5 596.3,755.4 600.7,749.9 604.7,753.6 609.1,753.6 613.5,748.3 616.4,747.7 621.2,750.5 624.5,752.5 628.5,747.7 632.7,741.5 636.7,744.4 640.4,750.3 644.8,738.4 648.4,740.6 652.1,741.5 656.5,746.1 660.3,750.5 664.2,749.4 668.6,733.3 672.6,740.6 676.8,739.5 680.8,734.0 684.1,733.3 688.5,730.5 692.2,731.1 696.2,713.5 700.6,712.8 705.0,710.2 709.0,712.4 712.7,715.3 716.5,717.2 720.0,717.2 720.0,717.2 724.4,699.6 732.1,698.1 736.5,693.2 740.3,695.2 744.2,693.0 748.2,692.6 752.4,717.9 756.4,726.7 760.3,729.4 764.1,727.4 768.5,726.3 772.2,727.2 776.2,725.2 780.6,728.5 784.4,727.4 788.3,727.4 792.7,725.0 796.1,721.7 800.5,718.6 804.4,721.2 808.2,716.8 812.6,714.2 816.3,709.1 820.3,731.8 824.3,729.6 828.0,730.5 832.4,725.2 836.8,718.3 840.8,718.3 844.6,717.2 847.9,718.6 852.3,728.3 856.7,728.5 860.4,728.5 864.4,749.9 868.8,752.7 873.2,755.4 876.5,756.5 880.9,755.4 884.9,755.8 888.6,758.0 892.6,747.2 896.4,742.6 900.8,745.5 904.7,746.6 908.5,747.2 912.2,747.7 916.2,748.8 920.2,764.2 923.9,758.7 928.3,740.6 932.3,735.5 936.5,740.4 940.5,732.2 944.4,729.6 948.8,735.5 952.6,737.3 956.3,734.9 960.7,738.4 963.6,736.2 968.5,738.9 972.4,741.5 976.2,736.6 980.1,735.1 984.1,733.3 988.5,726.3 992.7,724.1 996.7,718.6 1000.4,720.1 1004.8,730.5 1008.4,729.4 1012.1,718.6 1016.5,721.7 1020.9,724.1 1024.2,723.4 1028.6,722.3 1032.6,719.0 1036.8,716.4 1040.8,716.4 1044.5,720.1 1048.5,715.7 1052.2,715.3 1056.2,716.1 1060.2,740.0 1063.9,740.6 1068.3,746.1 1072.3,748.3 1076.0,745.9 1080.0,746.6 1080.0,747.0 1084.4,748.3 1092.1,752.5 1096.5,746.1 1100.3,747.7 1104.2,736.0 1108.2,731.1 1112.4,736.2 1116.4,735.1 1120.3,738.4 1124.1,734.4 1128.5,730.7 1132.2,727.4 1136.2,732.9 1140.0,734.9 1144.4,744.4 1148.3,743.3 1152.3,736.0 1156.5,745.5 1160.5,739.5 1164.4,739.3 1168.2,735.5 1172.1,715.7 1176.3,709.5 1180.3,710.9 1184.7,714.2 1188.5,713.1 1192.4,712.0 1196.4,710.2 1200.1,726.7 1204.6,722.8 1208.5,720.1 1212.3,723.4 1216.7,721.9 1220.4,723.9 1224.4,727.4 1228.8,715.3 1232.6,709.8 1236.5,710.6 1240.5,708.0 1244.2,705.3 1248.6,708.0 1252.6,714.6 1256.4,707.3 1260.3,719.5 1264.1,717.2 1268.5,728.9 1272.2,734.0 1276.2,735.5 1280.2,733.3 1283.9,730.7 1288.3,720.6 1292.3,722.3 1296.5,729.4 1300.5,728.3 1304.4,728.5 1308.6,733.3 1312.6,703.6 1320.3,703.6 1324.7,709.5 1332.4,709.5 1336.2,706.2 1340.1,718.6 1344.1,717.2 1348.5,717.5 1352.7,722.3 1356.7,718.6 1360.4,715.7 1364.4,714.2 1368.4,739.5 1372.1,738.2 1376.5,740.4 1380.9,742.6 1384.2,740.6 1388.6,740.6 1392.6,746.1 1396.8,766.8 1400.8,769.7 1405.2,766.4 1408.5,767.5 1412.4,767.5 1416.2,760.5 1419.9,760.5" fill="none" stroke="#1e90ff" stroke-width="1"/>
<rect x="0" y="803" width="1" height="3" fill="#000"/>
<rect x="64" y="803" width="1" height="3" fill="#000"/>
<rect x="128" y="803" width="1" height="3" fill="#000"/>
<rect x="192" y="803" width="1" height="3" fill="#000"/>
<rect x="256" y="803" width="1" height="3" fill="#000"/>
<rect x="320" y="803" width="1" height="3" fill="#000"/>
<rect x="384" y="803" width="1" height="3" fill="#000"/>
<rect x="448" y="803" width="1" height="3" fill="#000"/>
<rect x="512" y="803" width="1" height="3" fill="#000"/>
<rect x="576" y="803" width="1" height="3" fill="#000"/>
<rect x="640" y="803" width="1" height="3" fill="#000"/>
<rect x="704" y="803" width="1" height="3" fill="#000"/>
<rect x="768" y="803" width="1" height="3" fill="#000"/>
<rect x="832" y="803" width="1" height="3" fill="#000"/>
<rect x="896" y="803" width="1" height="3" fill="#000"/>
<rect x="960" y="803" width="1" height="3" fill="#000"/>
<rect x="1024" y="803" width="1" height="3" fill="#000"/>
<rect x="1088" y="803" width="1" height="3" fill="#000"/>
<rect x="1152" y="803" width="1" height="3" fill="#000"/>
<rect x="1216" y="803" width="1" height="3" fill="#000"/>
<rect x="1280" y="803" width="1" height="3" fill="#000"/>
<rect x="1344" y="803" width="1" height="3" fill="#000"/>
<rect x="1408" y="803" width="1" height="3" fill="#000"/>
<rect x="0" y="279" width="1588" height="1" fill="#c0c0c0"/>
<rect x="8" y="100" width="1" height="16" fill="#000"/>
<rect x="7" y="100" width="3" height="8" fill="#000"/>
<rect x="12" y="100" width="1" height="29" fill="#000"/>
<rect x="11" y="100" width="3" height="27" fill="#000"/>
<rect x="16" y="100" width="1" height="26" fill="#000"/>
<rect x="15" y="122" width="3" height="4" fill="#000"/>
<rect x="16" y="123" width="1" height="2" fill="#fff"/>
<rect x="20" y="116" width="1" height="8" fill="#000"/>
<rect x="19" y="119" width="3" height="3" fill="#000"/>
<rect x="20" y="120" width="1" height="1" fill="#fff"/>
<rect x="108" y="100" width="1" height="37" fill="#000"/>
<rect x="107" y="100" width="3" height="28" fill="#000"/>
<rect x="112" y="127" width="1" height="16" fill="#000"/>
<rect x="111" y="127" width="3" height="5" fill="#000"/>
<rect x="116" y="129" width="1" height="13" fill="#000"/>
<rect x="115" y="132" width="3" height="7" fill="#000"/>
<rect x="120" y="136" width="1" height="21" fill="#000"/>
<rect x="119" y="138" width="3" height="18" fill="#000"/>
<rect x="124" y="153" width="1" height="20" fill="#000"/>
<rect x="123" y="155" width="3" height="17" fill="#000"/>
<rect x="128" y="162" width="1" height="13" fill="#000"/>
<rect x="127" y="172" width="3" height="2" fill="#000"/>
<rect x="132" y="169" width="1" height="9" fill="#000"/>
<rect x="131" y="173" width="3" height="5" fill="#000"/>
<rect x="136" y="154" width="1" height="39" fill="#000"/>
<rect x="135" y="154" width="3" height="23" fill="#000"/>
<rect x="136" y="155" width="1" height="21" fill="#fff"/>
<rect x="140" y="145" width="1" height="28" fill="#000"/>
<rect x="139" y="154" width="3" height="12" fill="#000"/>
<rect x="144" y="164" width="1" height="21" fill="#000"/>
<rect x="143" y="165" width="3" height="18" fill="#000"/>
<rect x="148" y="168" width="1" height="17" fill="#000"/>
<rect x="147" y="176" width="3" height="7" fill="#000"/>
<rect x="148" y="177" width="1" height="5" fill="#fff"/>
<rect x="152" y="159" width="1" height="18" fill="#000"/>
<rect x="151" y="171" width="3" height="6" fill="#000"/>
<rect x="152" y="172" width="1" height="4" fill="#fff"/>
<rect x="156" y="160" width="1" height="14" fill="#000"/>
<rect x="155" y="167" width="3" height="5" fill="#000"/>
<rect x="156" y="168" width="1" height="3" fill="#fff"/>
<rect x="160" y="166" width="1" height="11" fill="#000"/>
<rect x="159" y="167" width="3" height="3" fill="#000"/>
<rect x="164" y="188" width="1" height="46" fill="#000"/>
<rect x="163" y="197" width="3" height="35" fill="#000"/>
<rect x="168" y="216" width="1" height="18" fill="#000"/>
<rect x="167" y="228" width="3" height="4" fill="#000"/>
<rect x="168" y="229" width="1" height="2" fill="#fff"/>
<rect x="172" y="224" width="1" height="9" fill="#000"/>
<rect x="171" y="227" width="3" height="1" fill="#000"/>
<rect x="176" y="226" width="1" height="12" fill="#000"/>
<rect x="175" y="227" width="3" height="6" fill="#000"/>
<rect x="180" y="230" width="1" height="8" fill="#000"/>
<rect x="179" y="232" width="3" height="2" fill="#000"/>
<rect x="184" y="224" width="1" height="13" fill="#000"/>
<rect x="183" y="231" width="3" height="3" fill="#000"/>
<rect x="184" y="232" width="1" height="1" fill="#fff"/>
<rect x="188" y="226" width="1" height="5" fill="#000"/>
<rect x="187" y="230" width="3" height="1" fill="#000"/>
<rect x="192" y="226" width="1" height="27" fill="#000"/>
<rect x="191" y="250" width="3" height="2" fill="#000"/>
<rect x="196" y="235" width="1" height="25" fill="#000"/>
<rect x="195" y="242" width="3" height="10" fill="#000"/>
<rect x="196" y="243" width="1" height="8" fill="#fff"/>
<rect x="200" y="236" width="1" height="9" fill="#000"/>
<rect x="199" y="239" width="3" height="4" fill="#000"/>
<rect x="200" y="240" width="1" height="2" fill="#fff"/>
<rect x="204" y="229" width="1" height="16" fill="#000"/>
<rect x="203" y="230" width="3" height="8" fill="#000"/>
<rect x="204" y="231" width="1" height="6" fill="#fff"/>
<rect x="208" y="223" width="1" height="11" fill="#000"/>
<rect x="207" y="229" width="3" height="2" fill="#000"/>
<rect x="212" y="229" width="1" height="9" fill="#000"/>
<rect x="211" y="230" width="3" height="5" fill="#000"/>
<rect x="216" y="233" width="1" height="11" fill="#000"/>
<rect x="215" y="234" width="3" height="10" fill="#000"/>
<rect x="220" y="204" width="1" height="51" fill="#000"/>
<rect x="219" y="239" width="3" height="12" fill="#000"/>
<rect x="224" y="247" width="1" height="25" fill="#000"/>
<rect x="223" y="250" width="3" height="5" fill="#000"/>
<rect x="228" y="247" width="1" height="16" fill="#000"/>
<rect x="227" y="254" width="3" height="4" fill="#000"/>
<rect x="232" y="243" width="1" height="15" fill="#000"/>
<rect x="231" y="254" width="3" height="4" fill="#000"/>
<rect x="232" y="255" width="1" height="2" fill="#fff"/>
<rect x="236" y="253" width="1" height="25" fill="#000"/>
<rect x="235" y="255" width="3" height="21" fill="#000"/>
<rect x="240" y="270" width="1" height="12" fill="#000"/>
<rect x="239" y="276" width="3" height="3" fill="#000"/>
<rect x="244" y="275" width="1" height="9" fill="#000"/>
<rect x="243" y="278" width="3" height="4" fill="#000"/>
<rect x="248" y="261" width="1" height="36" fill="#000"/>
<rect x="247" y="267" width="3" height="20" fill="#000"/>
<rect x="248" y="268" width="1" height="18" fill="#fff"/>
<rect x="252" y="257" width="1" height="26" fill="#000"/>
<rect x="251" y="267" width="3" height="7" fill="#000"/>
<rect x="256" y="260" width="1" height="14" fill="#000"/>
<rect x="255" y="263" width="3" height="11" fill="#000"/>
<rect x="256" y="264" width="1" height="9" fill="#fff"/>
<rect x="260" y="257" width="1" height="19" fill="#000"/>
<rect x="259" y="262" width="3" height="11" fill="#000"/>
<rect x="264" y="271" width="1" height="10" fill="#000"/>
<rect x="263" y="271" width="3" height="2" fill="#000"/>
<rect x="268" y="269" width="1" height="14" fill="#000"/>
<rect x="267" y="272" width="3" height="8" fill="#000"/>
<rect x="272" y="279" width="1" height="15" fill="#000"/>
<rect x="271" y="279" width="3" height="13" fill="#000"/>
<rect x="276" y="241" width="1" height="43" fill="#000"/>
<rect x="275" y="249" width="3" height="34" fill="#000"/>
<rect x="276" y="250" width="1" height="32" fill="#fff"/>
<rect x="280" y="249" width="1" height="29" fill="#000"/>
<rect x="279" y="249" width="3" height="26" fill="#000"/>
<rect x="284" y="264" width="1" height="14" fill="#000"/>
<rect x="283" y="265" width="3" height="10" fill="#000"/>
<rect x="284" y="266" width="1" height="8" fill="#fff"/>
<rect x="288" y="251" width="1" height="18" fill="#000"/>
<rect x="287" y="264" width="3" height="2" fill="#000"/>
<rect x="292" y="257" width="1" height="15" fill="#000"/>
<rect x="291" y="264" width="3" height="2" fill="#000"/>
<rect x="296" y="263" width="1" height="16" fill="#000"/>
<rect x="295" y="264" width="3" height="10" fill="#000"/>
<rect x="300" y="272" width="1" height="14" fill="#000"/>
<rect x="299" y="273" width="3" height="7" fill="#000"/>
<rect x="304" y="365" width="1" height="29" fill="#000"/>
<rect x="303" y="377" width="3" height="4" fill="#000"/>
<rect x="308" y="370" width="1" height="30" fill="#000"/>
<rect x="307" y="380" width="3" height="14" fill="#000"/>
<rect x="312" y="390" width="1" height="11" fill="#000"/>
<rect x="311" y="395" width="3" height="1" fill="#000"/>
<rect x="316" y="390" width="1" height="17" fill="#000"/>
<rect x="315" y="397" width="3" height="2" fill="#000"/>
<rect x="320" y="393" width="1" height="14" fill="#000"/>
<rect x="319" y="397" width="3" height="2" fill="#000"/>
<rect x="324" y="373" width="1" height="30" fill="#000"/>
<rect x="323" y="394" width="3" height="7" fill="#000"/>
<rect x="324" y="395" width="1" height="5" fill="#fff"/>
<rect x="328" y="391" width="1" height="8" fill="#000"/>
<rect x="327" y="394" width="3" height="5" fill="#000"/>
<rect x="332" y="362" width="1" height="23" fill="#000"/>
<rect x="331" y="367" width="3" height="7" fill="#000"/>
<rect x="336" y="371" width="1" height="19" fill="#000"/>
<rect x="335" y="372" width="3" height="8" fill="#000"/>
<rect x="340" y="351" width="1" height="29" fill="#000"/>
<rect x="339" y="354" width="3" height="26" fill="#000"/>
<rect x="340" y="355" width="1" height="24" fill="#fff"/>
<rect x="344" y="326" width="1" height="29" fill="#000"/>
<rect x="343" y="335" width="3" height="18" fill="#000"/>
<rect x="344" y="336" width="1" height="16" fill="#fff"/>
<rect x="348" y="328" width="1" height="18" fill="#000"/>
<rect x="347" y="336" width="3" height="1" fill="#000"/>
<rect x="352" y="325" width="1" height="15" fill="#000"/>
<rect x="351" y="326" width="3" height="12" fill="#000"/>
<rect x="352" y="327" width="1" height="10" fill="#fff"/>
<rect x="356" y="326" width="1" height="13" fill="#000"/>
<rect x="355" y="326" width="3" height="12" fill="#000"/>
<rect x="360" y="342" width="1" height="27" fill="#000"/>
<rect x="359" y="354" width="3" height="5" fill="#000"/>
<rect x="364" y="350" width="1" height="14" fill="#000"/>
<rect x="363" y="358" width="3" height="2" fill="#000"/>
<rect x="368" y="357" width="1" height="14" fill="#000"/>
<rect x="367" y="359" width="3" height="3" fill="#000"/>
<rect x="372" y="360" width="1" height="11" fill="#000"/>
<rect x="371" y="361" width="3" height="10" fill="#000"/>
<rect x="376" y="367" width="1" height="9" fill="#000"/>
<rect x="375" y="371" width="3" height="1" fill="#000"/>
<rect x="380" y="368" width="1" height="14" fill="#000"/>
<rect x="379" y="371" width="3" height="10" fill="#000"/>
<rect x="384" y="374" width="1" height="7" fill="#000"/>
<rect x="383" y="379" width="3" height="1" fill="#000"/>
<rect x="388" y="338" width="1" height="25" fill="#000"/>
<rect x="387" y="346" width="3" height="17" fill="#000"/>
<rect x="388" y="347" width="1" height="15" fill="#fff"/>
<rect x="392" y="344" width="1" height="26" fill="#000"/>
<rect x="391" y="345" width="3" height="21" fill="#000"/>
<rect x="396" y="361" width="1" height="21" fill="#000"/>
<rect x="395" y="365" width="3" height="15" fill="#000"/>
<rect x="400" y="366" width="1" height="20" fill="#000"/>
<rect x="399" y="379" width="3" height="6" fill="#000"/>
<rect x="404" y="383" width="1" height="14" fill="#000"/>
<rect x="403" y="383" width="3" height="3" fill="#000"/>
<rect x="404" y="384" width="1" height="1" fill="#fff"/>
<rect x="408" y="367" width="1" height="24" fill="#000"/>
<rect x="407" y="376" width="3" height="7" fill="#000"/>
<rect x="408" y="377" width="1" height="5" fill="#fff"/>
<rect x="412" y="370" width="1" height="6" fill="#000"/>
<rect x="411" y="374" width="3" height="2" fill="#000"/>
<rect x="416" y="337" width="1" height="42" fill="#000"/>
<rect x="415" y="341" width="3" height="30" fill="#000"/>
<rect x="420" y="361" width="1" height="15" fill="#000"/>
<rect x="419" y="369" width="3" height="3" fill="#000"/>
<rect x="420" y="370" width="1" height="1" fill="#fff"/>
<rect x="424" y="366" width="1" height="15" fill="#000"/>
<rect x="423" y="368" width="3" height="8" fill="#000"/>
<rect x="428" y="373" width="1" height="15" fill="#000"/>
<rect x="427" y="375" width="3" height="9" fill="#000"/>
<rect x="432" y="383" width="1" height="13" fill="#000"/>
<rect x="431" y="383" width="3" height="9" fill="#000"/>
<rect x="436" y="375" width="1" height="17" fill="#000"/>
<rect x="435" y="377" width="3" height="15" fill="#000"/>
<rect x="436" y="378" width="1" height="13" fill="#fff"/>
<rect x="440" y="363" width="1" height="14" fill="#000"/>
<rect x="439" y="372" width="3" height="5" fill="#000"/>
<rect x="440" y="373" width="1" height="3" fill="#fff"/>
<rect x="444" y="385" width="1" height="30" fill="#000"/>
<rect x="443" y="400" width="3" height="8" fill="#000"/>
<rect x="444" y="401" width="1" height="6" fill="#fff"/>
<rect x="448" y="360" width="1" height="43" fill="#000"/>
<rect x="447" y="376" width="3" height="25" fill="#000"/>
<rect x="448" y="377" width="1" height="23" fill="#fff"/>
<rect x="452" y="370" width="1" height="13" fill="#000"/>
<rect x="451" y="376" width="3" height="1" fill="#000"/>
<rect x="456" y="336" width="1" height="45" fill="#000"/>
<rect x="455" y="336" width="3" height="41" fill="#000"/>
<rect x="456" y="337" width="1" height="39" fill="#fff"/>
<rect x="460" y="333" width="1" height="20" fill="#000"/>
<rect x="459" y="336" width="3" height="15" fill="#000"/>
<rect x="464" y="348" width="1" height="12" fill="#000"/>
<rect x="463" y="351" width="3" height="5" fill="#000"/>
<rect x="468" y="355" width="1" height="13" fill="#000"/>
<rect x="467" y="355" width="3" height="11" fill="#000"/>
<rect x="472" y="305" width="1" height="57" fill="#000"/>
<rect x="471" y="306" width="3" height="56" fill="#000"/>
<rect x="472" y="307" width="1" height="54" fill="#fff"/>
<rect x="476" y="292" width="1" height="27" fill="#000"/>
<rect x="475" y="295" width="3" height="13" fill="#000"/>
<rect x="476" y="296" width="1" height="11" fill="#fff"/>
<rect x="480" y="277" width="1" height="21" fill="#000"/>
<rect x="479" y="278" width="3" height="18" fill="#000"/>
<rect x="480" y="279" width="1" height="16" fill="#fff"/>
<rect x="484" y="272" width="1" height="15" fill="#000"/>
<rect x="483" y="278" width="3" height="5" fill="#000"/>
<rect x="488" y="279" width="1" height="12" fill="#000"/>
<rect x="487" y="281" width="3" height="7" fill="#000"/>
<rect x="492" y="278" width="1" height="12" fill="#000"/>
<rect x="491" y="278" width="3" height="10" fill="#000"/>
<rect x="492" y="279" width="1" height="8" fill="#fff"/>
<rect x="496" y="278" width="1" height="11" fill="#000"/>
<rect x="495" y="278" width="3" height="5" fill="#000"/>
<rect x="500" y="302" width="1" height="24" fill="#000"/>
<rect x="499" y="311" width="3" height="8" fill="#000"/>
<rect x="504" y="318" width="1" height="32" fill="#000"/>
<rect x="503" y="318" width="3" height="32" fill="#000"/>
<rect x="508" y="347" width="1" height="13" fill="#000"/>
<rect x="507" y="348" width="3" height="3" fill="#000"/>
<rect x="508" y="349" width="1" height="1" fill="#fff"/>
<rect x="512" y="344" width="1" height="25" fill="#000"/>
<rect x="511" y="349" width="3" height="20" fill="#000"/>
<rect x="516" y="368" width="1" height="22" fill="#000"/>
<rect x="515" y="368" width="3" height="18" fill="#000"/>
<rect x="520" y="377" width="1" height="12" fill="#000"/>
<rect x="519" y="385" width="3" height="2" fill="#000"/>
<rect x="524" y="378" width="1" height="11" fill="#000"/>
<rect x="523" y="380" width="3" height="7" fill="#000"/>
<rect x="524" y="381" width="1" height="5" fill="#fff"/>
<rect x="528" y="356" width="1" height="42" fill="#000"/>
<rect x="527" y="373" width="3" height="18" fill="#000"/>
<rect x="532" y="359" width="1" height="41" fill="#000"/>
<rect x="531" y="360" width="3" height="31" fill="#000"/>
<rect x="532" y="361" width="1" height="29" fill="#fff"/>
<rect x="536" y="341" width="1" height="26" fill="#000"/>
<rect x="535" y="352" width="3" height="9" fill="#000"/>
<rect x="536" y="353" width="1" height="7" fill="#fff"/>
<rect x="540" y="348" width="1" height="32" fill="#000"/>
<rect x="539" y="351" width="3" height="27" fill="#000"/>
<rect x="544" y="370" width="1" height="26" fill="#000"/>
<rect x="543" y="377" width="3" height="17" fill="#000"/>
<rect x="548" y="388" width="1" height="10" fill="#000"/>
<rect x="547" y="394" width="3" height="1" fill="#000"/>
<rect x="552" y="393" width="1" height="4" fill="#000"/>
<rect x="551" y="394" width="3" height="2" fill="#000"/>
<rect x="556" y="444" width="1" height="27" fill="#000"/>
<rect x="555" y="449" width="3" height="4" fill="#000"/>
<rect x="560" y="444" width="1" height="16" fill="#000"/>
<rect x="559" y="450" width="3" height="3" fill="#000"/>
<rect x="560" y="451" width="1" height="1" fill="#fff"/>
<rect x="564" y="440" width="1" height="14" fill="#000"/>
<rect x="563" y="448" width="3" height="3" fill="#000"/>
<rect x="564" y="449" width="1" height="1" fill="#fff"/>
<rect x="568" y="450" width="1" height="13" fill="#000"/>
<rect x="567" y="450" width="3" height="6" fill="#000"/>
<rect x="572" y="437" width="1" height="19" fill="#000"/>
<rect x="571" y="446" width="3" height="10" fill="#000"/>
<rect x="572" y="447" width="1" height="8" fill="#fff"/>
<rect x="576" y="425" width="1" height="30" fill="#000"/>
<rect x="575" y="425" width="3" height="21" fill="#000"/>
<rect x="576" y="426" width="1" height="19" fill="#fff"/>
<rect x="580" y="422" width="1" height="13" fill="#000"/>
<rect x="579" y="425" width="3" height="10" fill="#000"/>
<rect x="584" y="419" width="1" height="30" fill="#000"/>
<rect x="583" y="426" width="3" height="12" fill="#000"/>
<rect x="588" y="433" width="1" height="31" fill="#000"/>
<rect x="587" y="438" width="3" height="24" fill="#000"/>
<rect x="592" y="461" width="1" height="20" fill="#000"/>
<rect x="591" y="461" width="3" height="11" fill="#000"/>
<rect x="596" y="452" width="1" height="17" fill="#000"/>
<rect x="595" y="458" width="3" height="8" fill="#000"/>
<rect x="596" y="459" width="1" height="6" fill="#fff"/>
<rect x="600" y="444" width="1" height="17" fill="#000"/>
<rect x="599" y="447" width="3" height="12" fill="#000"/>
<rect x="600" y="448" width="1" height="10" fill="#fff"/>
<rect x="604" y="447" width="1" height="21" fill="#000"/>
<rect x="603" y="447" width="3" height="18" fill="#000"/>
<rect x="608" y="462" width="1" height="7" fill="#000"/>
<rect x="607" y="464" width="3" height="1" fill="#000"/>
<rect x="612" y="422" width="1" height="41" fill="#000"/>
<rect x="611" y="438" width="3" height="15" fill="#000"/>
<rect x="616" y="446" width="1" height="28" fill="#000"/>
<rect x="615" y="450" width="3" height="3" fill="#000"/>
<rect x="616" y="451" width="1" height="1" fill="#fff"/>
<rect x="620" y="445" width="1" height="20" fill="#000"/>
<rect x="619" y="449" width="3" height="10" fill="#000"/>
<rect x="624" y="446" width="1" height="22" fill="#000"/>
<rect x="623" y="456" width="3" height="10" fill="#000"/>
<rect x="628" y="450" width="1" height="20" fill="#000"/>
<rect x="627" y="456" width="3" height="10" fill="#000"/>
<rect x="628" y="457" width="1" height="8" fill="#fff"/>
<rect x="632" y="442" width="1" height="17" fill="#000"/>
<rect x="631" y="443" width="3" height="13" fill="#000"/>
<rect x="632" y="444" width="1" height="11" fill="#fff"/>
<rect x="636" y="439" width="1" height="15" fill="#000"/>
<rect x="635" y="443" width="3" height="10" fill="#000"/>
<rect x="640" y="446" width="1" height="30" fill="#000"/>
<rect x="639" y="457" width="3" height="11" fill="#000"/>
<rect x="644" y="437" width="1" height="42" fill="#000"/>
<rect x="643" y="443" width="3" height="25" fill="#000"/>
<rect x="644" y="444" width="1" height="23" fill="#fff"/>
<rect x="648" y="439" width="1" height="12" fill="#000"/>
<rect x="647" y="443" width="3" height="6" fill="#000"/>
<rect x="652" y="426" width="1" height="26" fill="#000"/>
<rect x="651" y="444" width="3" height="7" fill="#000"/>
<rect x="656" y="450" width="1" height="23" fill="#000"/>
<rect x="655" y="450" width="3" height="10" fill="#000"/>
<rect x="660" y="460" width="1" height="17" fill="#000"/>
<rect x="659" y="460" width="3" height="14" fill="#000"/>
<rect x="664" y="467" width="1" height="10" fill="#000"/>
<rect x="663" y="472" width="3" height="1" fill="#000"/>
<rect x="668" y="435" width="1" height="24" fill="#000"/>
<rect x="667" y="437" width="3" height="13" fill="#000"/>
<rect x="668" y="438" width="1" height="11" fill="#fff"/>
<rect x="672" y="437" width="1" height="24" fill="#000"/>
<rect x="671" y="437" width="3" height="19" fill="#000"/>
<rect x="676" y="447" width="1" height="11" fill="#000"/>
<rect x="675" y="454" width="3" height="3" fill="#000"/>
<rect x="676" y="455" width="1" height="1" fill="#fff"/>
<rect x="680" y="431" width="1" height="24" fill="#000"/>
<rect x="679" y="440" width="3" height="14" fill="#000"/>
<rect x="680" y="441" width="1" height="12" fill="#fff"/>
<rect x="684" y="438" width="1" height="11" fill="#000"/>
<rect x="683" y="439" width="3" height="1" fill="#000"/>
<rect x="688" y="428" width="1" height="15" fill="#000"/>
<rect x="687" y="434" width="3" height="4" fill="#000"/>
<rect x="688" y="435" width="1" height="2" fill="#fff"/>
<rect x="692" y="426" width="1" height="9" fill="#000"/>
<rect x="691" y="433" width="3" height="1" fill="#000"/>
<rect x="696" y="377" width="1" height="41" fill="#000"/>
<rect x="695" y="380" width="3" height="32" fill="#000"/>
<rect x="696" y="381" width="1" height="30" fill="#fff"/>
<rect x="700" y="372" width="1" height="18" fill="#000"/>
<rect x="699" y="379" width="3" height="2" fill="#000"/>
<rect x="704" y="366" width="1" height="13" fill="#000"/>
<rect x="703" y="370" width="3" height="9" fill="#000"/>
<rect x="704" y="371" width="1" height="7" fill="#fff"/>
<rect x="708" y="358" width="1" height="18" fill="#000"/>
<rect x="707" y="371" width="3" height="3" fill="#000"/>
<rect x="712" y="373" width="1" height="16" fill="#000"/>
<rect x="711" y="373" width="3" height="5" fill="#000"/>
<rect x="716" y="367" width="1" height="21" fill="#000"/>
<rect x="715" y="378" width="3" height="5" fill="#000"/>
<rect x="720" y="377" width="1" height="8" fill="#000"/>
<rect x="719" y="380" width="3" height="3" fill="#000"/>
<rect x="720" y="381" width="1" height="1" fill="#fff"/>
<rect x="724" y="292" width="1" height="35" fill="#000"/>
<rect x="723" y="302" width="3" height="22" fill="#000"/>
<rect x="724" y="303" width="1" height="20" fill="#fff"/>
<rect x="728" y="292" width="1" height="15" fill="#000"/>
<rect x="727" y="301" width="3" height="2" fill="#000"/>
<rect x="732" y="294" width="1" height="10" fill="#000"/>
<rect x="731" y="300" width="3" height="3" fill="#000"/>
<rect x="732" y="301" width="1" height="1" fill="#fff"/>
<rect x="736" y="245" width="1" height="42" fill="#000"/>
<rect x="735" y="256" width="3" height="31" fill="#000"/>
<rect x="736" y="257" width="1" height="29" fill="#fff"/>
<rect x="740" y="245" width="1" height="19" fill="#000"/>
<rect x="739" y="256" width="3" height="7" fill="#000"/>
<rect x="744" y="238" width="1" height="26" fill="#000"/>
<rect x="743" y="238" width="3" height="25" fill="#000"/>
<rect x="744" y="239" width="1" height="23" fill="#fff"/>
<rect x="748" y="237" width="1" height="12" fill="#000"/>
<rect x="747" y="238" width="3" height="1" fill="#000"/>
<rect x="752" y="282" width="1" height="30" fill="#000"/>
<rect x="751" y="291" width="3" height="6" fill="#000"/>
<rect x="752" y="292" width="1" height="4" fill="#fff"/>
<rect x="756" y="288" width="1" height="32" fill="#000"/>
<rect x="755" y="291" width="3" height="29" fill="#000"/>
<rect x="760" y="314" width="1" height="18" fill="#000"/>
<rect x="759" y="319" width="3" height="8" fill="#000"/>
<rect x="764" y="312" width="1" height="22" fill="#000"/>
<rect x="763" y="320" width="3" height="8" fill="#000"/>
<rect x="764" y="321" width="1" height="6" fill="#fff"/>
<rect x="768" y="305" width="1" height="18" fill="#000"/>
<rect x="767" y="315" width="3" height="5" fill="#000"/>
<rect x="768" y="316" width="1" height="3" fill="#fff"/>
<rect x="772" y="307" width="1" height="15" fill="#000"/>
<rect x="771" y="315" width="3" height="2" fill="#000"/>
<rect x="776" y="306" width="1" height="11" fill="#000"/>
<rect x="775" y="311" width="3" height="6" fill="#000"/>
<rect x="776" y="312" width="1" height="4" fill="#fff"/>
<rect x="780" y="289" width="1" height="34" fill="#000"/>
<rect x="779" y="296" width="3" height="24" fill="#000"/>
<rect x="784" y="308" width="1" height="16" fill="#000"/>
<rect x="783" y="315" width="3" height="5" fill="#000"/>
<rect x="784" y="316" width="1" height="3" fill="#fff"/>
<rect x="788" y="312" width="1" height="10" fill="#000"/>
<rect x="787" y="314" width="3" height="1" fill="#000"/>
<rect x="792" y="306" width="1" height="14" fill="#000"/>
<rect x="791" y="309" width="3" height="3" fill="#000"/>
<rect x="792" y="310" width="1" height="1" fill="#fff"/>
<rect x="796" y="295" width="1" height="19" fill="#000"/>
<rect x="795" y="298" width="3" height="10" fill="#000"/>
<rect x="796" y="299" width="1" height="8" fill="#fff"/>
<rect x="800" y="278" width="1" height="21" fill="#000"/>
<rect x="799" y="288" width="3" height="10" fill="#000"/>
<rect x="800" y="289" width="1" height="8" fill="#fff"/>
<rect x="804" y="287" width="1" height="10" fill="#000"/>
<rect x="803" y="288" width="3" height="6" fill="#000"/>
<rect x="808" y="276" width="1" height="26" fill="#000"/>
<rect x="807" y="280" width="3" height="8" fill="#000"/>
<rect x="808" y="281" width="1" height="6" fill="#fff"/>
<rect x="812" y="264" width="1" height="26" fill="#000"/>
<rect x="811" y="271" width="3" height="9" fill="#000"/>
<rect x="812" y="272" width="1" height="7" fill="#fff"/>
<rect x="816" y="247" width="1" height="26" fill="#000"/>
<rect x="815" y="248" width="3" height="24" fill="#000"/>
<rect x="816" y="249" width="1" height="22" fill="#fff"/>
<rect x="820" y="235" width="1" height="82" fill="#000"/>
<rect x="819" y="248" width="3" height="54" fill="#000"/>
<rect x="824" y="291" width="1" height="17" fill="#000"/>
<rect x="823" y="291" width="3" height="11" fill="#000"/>
<rect x="824" y="292" width="1" height="9" fill="#fff"/>
<rect x="828" y="278" width="1" height="25" fill="#000"/>
<rect x="827" y="291" width="3" height="5" fill="#000"/>
<rect x="832" y="278" width="1" height="18" fill="#000"/>
<rect x="831" y="279" width="3" height="17" fill="#000"/>
<rect x="832" y="280" width="1" height="15" fill="#fff"/>
<rect x="836" y="224" width="1" height="42" fill="#000"/>
<rect x="835" y="224" width="3" height="30" fill="#000"/>
<rect x="840" y="247" width="1" height="16" fill="#000"/>
<rect x="839" y="254" width="3" height="1" fill="#000"/>
<rect x="844" y="249" width="1" height="10" fill="#000"/>
<rect x="843" y="249" width="3" height="6" fill="#000"/>
<rect x="844" y="250" width="1" height="4" fill="#fff"/>
<rect x="848" y="248" width="1" height="15" fill="#000"/>
<rect x="847" y="249" width="3" height="4" fill="#000"/>
<rect x="852" y="252" width="1" height="24" fill="#000"/>
<rect x="851" y="252" width="3" height="21" fill="#000"/>
<rect x="856" y="270" width="1" height="17" fill="#000"/>
<rect x="855" y="272" width="3" height="1" fill="#000"/>
<rect x="860" y="268" width="1" height="10" fill="#000"/>
<rect x="859" y="272" width="3" height="1" fill="#000"/>
<rect x="864" y="306" width="1" height="32" fill="#000"/>
<rect x="863" y="312" width="3" height="22" fill="#000"/>
<rect x="868" y="330" width="1" height="18" fill="#000"/>
<rect x="867" y="333" width="3" height="10" fill="#000"/>
<rect x="872" y="342" width="1" height="15" fill="#000"/>
<rect x="871" y="342" width="3" height="13" fill="#000"/>
<rect x="876" y="341" width="1" height="18" fill="#000"/>
<rect x="875" y="352" width="3" height="6" fill="#000"/>
<rect x="880" y="350" width="1" height="12" fill="#000"/>
<rect x="879" y="356" width="3" height="2" fill="#000"/>
<rect x="884" y="354" width="1" height="18" fill="#000"/>
<rect x="883" y="355" width="3" height="3" fill="#000"/>
<rect x="884" y="356" width="1" height="1" fill="#fff"/>
<rect x="888" y="351" width="1" height="16" fill="#000"/>
<rect x="887" y="355" width="3" height="11" fill="#000"/>
<rect x="892" y="331" width="1" height="36" fill="#000"/>
<rect x="891" y="344" width="3" height="23" fill="#000"/>
<rect x="892" y="345" width="1" height="21" fill="#fff"/>
<rect x="896" y="332" width="1" height="18" fill="#000"/>
<rect x="895" y="334" width="3" height="12" fill="#000"/>
<rect x="896" y="335" width="1" height="10" fill="#fff"/>
<rect x="900" y="329" width="1" height="16" fill="#000"/>
<rect x="899" y="334" width="3" height="8" fill="#000"/>
<rect x="904" y="339" width="1" height="12" fill="#000"/>
<rect x="903" y="341" width="3" height="6" fill="#000"/>
<rect x="908" y="340" width="1" height="11" fill="#000"/>
<rect x="907" y="346" width="3" height="3" fill="#000"/>
<rect x="912" y="345" width="1" height="14" fill="#000"/>
<rect x="911" y="348" width="3" height="1" fill="#000"/>
<rect x="916" y="345" width="1" height="10" fill="#000"/>
<rect x="915" y="348" width="3" height="7" fill="#000"/>
<rect x="920" y="395" width="1" height="26" fill="#000"/>
<rect x="919" y="400" width="3" height="15" fill="#000"/>
<rect x="920" y="401" width="1" height="13" fill="#fff"/>
<rect x="924" y="384" width="1" height="30" fill="#000"/>
<rect x="923" y="391" width="3" height="10" fill="#000"/>
<rect x="924" y="392" width="1" height="8" fill="#fff"/>
<rect x="928" y="345" width="1" height="47" fill="#000"/>
<rect x="927" y="351" width="3" height="41" fill="#000"/>
<rect x="928" y="352" width="1" height="39" fill="#fff"/>
<rect x="932" y="333" width="1" height="35" fill="#000"/>
<rect x="931" y="336" width="3" height="14" fill="#000"/>
<rect x="932" y="337" width="1" height="12" fill="#fff"/>
<rect x="936" y="334" width="1" height="27" fill="#000"/>
<rect x="935" y="337" width="3" height="17" fill="#000"/>
<rect x="940" y="326" width="1" height="30" fill="#000"/>
<rect x="939" y="329" width="3" height="25" fill="#000"/>
<rect x="940" y="330" width="1" height="23" fill="#fff"/>
<rect x="944" y="316" width="1" height="14" fill="#000"/>
<rect x="943" y="319" width="3" height="11" fill="#000"/>
<rect x="944" y="320" width="1" height="9" fill="#fff"/>
<rect x="948" y="312" width="1" height="36" fill="#000"/>
<rect x="947" y="325" width="3" height="9" fill="#000"/>
<rect x="952" y="334" width="1" height="17" fill="#000"/>
<rect x="951" y="334" width="3" height="9" fill="#000"/>
<rect x="956" y="324" width="1" height="20" fill="#000"/>
<rect x="955" y="333" width="3" height="10" fill="#000"/>
<rect x="956" y="334" width="1" height="8" fill="#fff"/>
<rect x="960" y="334" width="1" height="16" fill="#000"/>
<rect x="959" y="336" width="3" height="10" fill="#000"/>
<rect x="964" y="337" width="1" height="12" fill="#000"/>
<rect x="963" y="337" width="3" height="9" fill="#000"/>
<rect x="964" y="338" width="1" height="7" fill="#fff"/>
<rect x="968" y="336" width="1" height="33" fill="#000"/>
<rect x="967" y="337" width="3" height="12" fill="#000"/>
<rect x="972" y="344" width="1" height="11" fill="#000"/>
<rect x="971" y="348" width="3" height="7" fill="#000"/>
<rect x="976" y="310" width="1" height="44" fill="#000"/>
<rect x="975" y="317" width="3" height="23" fill="#000"/>
<rect x="980" y="325" width="1" height="22" fill="#000"/>
<rect x="979" y="337" width="3" height="4" fill="#000"/>
<rect x="980" y="338" width="1" height="2" fill="#fff"/>
<rect x="984" y="332" width="1" height="12" fill="#000"/>
<rect x="983" y="333" width="3" height="3" fill="#000"/>
<rect x="984" y="334" width="1" height="1" fill="#fff"/>
<rect x="988" y="316" width="1" height="21" fill="#000"/>
<rect x="987" y="316" width="3" height="15" fill="#000"/>
<rect x="988" y="317" width="1" height="13" fill="#fff"/>
<rect x="992" y="299" width="1" height="24" fill="#000"/>
<rect x="991" y="308" width="3" height="8" fill="#000"/>
<rect x="992" y="309" width="1" height="6" fill="#fff"/>
<rect x="996" y="282" width="1" height="26" fill="#000"/>
<rect x="995" y="289" width="3" height="19" fill="#000"/>
<rect x="996" y="290" width="1" height="17" fill="#fff"/>
<rect x="1000" y="287" width="1" height="9" fill="#000"/>
<rect x="999" y="289" width="3" height="6" fill="#000"/>
<rect x="1004" y="284" width="1" height="37" fill="#000"/>
<rect x="1003" y="284" width="3" height="31" fill="#000"/>
<rect x="1008" y="310" width="1" height="15" fill="#000"/>
<rect x="1007" y="312" width="3" height="3" fill="#000"/>
<rect x="1008" y="313" width="1" height="1" fill="#fff"/>
<rect x="1012" y="277" width="1" height="37" fill="#000"/>
<rect x="1011" y="278" width="3" height="35" fill="#000"/>
<rect x="1012" y="279" width="1" height="33" fill="#fff"/>
<rect x="1016" y="275" width="1" height="26" fill="#000"/>
<rect x="1015" y="277" width="3" height="9" fill="#000"/>
<rect x="1020" y="284" width="1" height="17" fill="#000"/>
<rect x="1019" y="285" width="3" height="6" fill="#000"/>
<rect x="1024" y="281" width="1" height="16" fill="#000"/>
<rect x="1023" y="289" width="3" height="2" fill="#000"/>
<rect x="1028" y="284" width="1" height="7" fill="#000"/>
<rect x="1027" y="285" width="3" height="5" fill="#000"/>
<rect x="1028" y="286" width="1" height="3" fill="#fff"/>
<rect x="1032" y="253" width="1" height="39" fill="#000"/>
<rect x="1031" y="273" width="3" height="17" fill="#000"/>
<rect x="1032" y="274" width="1" height="15" fill="#fff"/>
<rect x="1036" y="265" width="1" height="25" fill="#000"/>
<rect x="1035" y="269" width="3" height="4" fill="#000"/>
<rect x="1036" y="270" width="1" height="2" fill="#fff"/>
<rect x="1040" y="268" width="1" height="15" fill="#000"/>
<rect x="1039" y="269" width="3" height="2" fill="#000"/>
<rect x="1044" y="269" width="1" height="12" fill="#000"/>
<rect x="1043" y="270" width="3" height="5" fill="#000"/>
<rect x="1048" y="256" width="1" height="21" fill="#000"/>
<rect x="1047" y="263" width="3" height="12" fill="#000"/>
<rect x="1048" y="264" width="1" height="10" fill="#fff"/>
<rect x="1052" y="256" width="1" height="14" fill="#000"/>
<rect x="1051" y="262" width="3" height="2" fill="#000"/>
<rect x="1056" y="256" width="1" height="10" fill="#000"/>
<rect x="1055" y="262" width="3" height="2" fill="#000"/>
<rect x="1060" y="285" width="1" height="25" fill="#000"/>
<rect x="1059" y="304" width="3" height="1" fill="#000"/>
<rect x="1064" y="296" width="1" height="14" fill="#000"/>
<rect x="1063" y="304" width="3" height="3" fill="#000"/>
<rect x="1068" y="306" width="1" height="30" fill="#000"/>
<rect x="1067" y="306" width="3" height="15" fill="#000"/>
<rect x="1072" y="315" width="1" height="15" fill="#000"/>
<rect x="1071" y="320" width="3" height="5" fill="#000"/>
<rect x="1076" y="317" width="1" height="12" fill="#000"/>
<rect x="1075" y="320" width="3" height="5" fill="#000"/>
<rect x="1076" y="321" width="1" height="3" fill="#fff"/>
<rect x="1080" y="318" width="1" height="13" fill="#000"/>
<rect x="1079" y="320" width="3" height="4" fill="#000"/>
<rect x="1084" y="320" width="1" height="10" fill="#000"/>
<rect x="1083" y="323" width="3" height="3" fill="#000"/>
<rect x="1088" y="322" width="1" height="49" fill="#000"/>
<rect x="1087" y="330" width="3" height="34" fill="#000"/>
<rect x="1088" y="331" width="1" height="32" fill="#fff"/>
<rect x="1092" y="323" width="1" height="23" fill="#000"/>
<rect x="1091" y="330" width="3" height="4" fill="#000"/>
<rect x="1096" y="320" width="1" height="15" fill="#000"/>
<rect x="1095" y="326" width="3" height="8" fill="#000"/>
<rect x="1096" y="327" width="1" height="6" fill="#fff"/>
<rect x="1100" y="320" width="1" height="12" fill="#000"/>
<rect x="1099" y="324" width="3" height="3" fill="#000"/>
<rect x="1104" y="311" width="1" height="23" fill="#000"/>
<rect x="1103" y="311" width="3" height="14" fill="#000"/>
<rect x="1104" y="312" width="1" height="12" fill="#fff"/>
<rect x="1108" y="302" width="1" height="15" fill="#000"/>
<rect x="1107" y="303" width="3" height="9" fill="#000"/>
<rect x="1108" y="304" width="1" height="7" fill="#fff"/>
<rect x="1112" y="303" width="1" height="10" fill="#000"/>
<rect x="1111" y="303" width="3" height="8" fill="#000"/>
<rect x="1116" y="288" width="1" height="34" fill="#000"/>
<rect x="1115" y="293" width="3" height="17" fill="#000"/>
<rect x="1120" y="308" width="1" height="13" fill="#000"/>
<rect x="1119" y="309" width="3" height="7" fill="#000"/>
<rect x="1124" y="307" width="1" height="12" fill="#000"/>
<rect x="1123" y="308" width="3" height="8" fill="#000"/>
<rect x="1124" y="309" width="1" height="6" fill="#fff"/>
<rect x="1128" y="300" width="1" height="13" fill="#000"/>
<rect x="1127" y="303" width="3" height="5" fill="#000"/>
<rect x="1128" y="304" width="1" height="3" fill="#fff"/>
<rect x="1132" y="293" width="1" height="14" fill="#000"/>
<rect x="1131" y="296" width="3" height="8" fill="#000"/>
<rect x="1132" y="297" width="1" height="6" fill="#fff"/>
<rect x="1136" y="291" width="1" height="16" fill="#000"/>
<rect x="1135" y="296" width="3" height="10" fill="#000"/>
<rect x="1140" y="302" width="1" height="7" fill="#000"/>
<rect x="1139" y="306" width="3" height="2" fill="#000"/>
<rect x="1144" y="295" width="1" height="31" fill="#000"/>
<rect x="1143" y="302" width="3" height="22" fill="#000"/>
<rect x="1148" y="313" width="1" height="13" fill="#000"/>
<rect x="1147" y="320" width="3" height="3" fill="#000"/>
<rect x="1148" y="321" width="1" height="1" fill="#fff"/>
<rect x="1152" y="311" width="1" height="15" fill="#000"/>
<rect x="1151" y="311" width="3" height="13" fill="#000"/>
<rect x="1152" y="312" width="1" height="11" fill="#fff"/>
<rect x="1156" y="313" width="1" height="13" fill="#000"/>
<rect x="1155" y="313" width="3" height="11" fill="#000"/>
<rect x="1160" y="314" width="1" height="12" fill="#000"/>
<rect x="1159" y="317" width="3" height="7" fill="#000"/>
<rect x="1160" y="318" width="1" height="5" fill="#fff"/>
<rect x="1164" y="313" width="1" height="13" fill="#000"/>
<rect x="1163" y="316" width="3" height="1" fill="#000"/>
<rect x="1168" y="308" width="1" height="8" fill="#000"/>
<rect x="1167" y="311" width="3" height="5" fill="#000"/>
<rect x="1168" y="312" width="1" height="3" fill="#fff"/>
<rect x="1172" y="267" width="1" height="35" fill="#000"/>
<rect x="1171" y="269" width="3" height="33" fill="#000"/>
<rect x="1172" y="270" width="1" height="31" fill="#fff"/>
<rect x="1176" y="249" width="1" height="22" fill="#000"/>
<rect x="1175" y="252" width="3" height="18" fill="#000"/>
<rect x="1176" y="253" width="1" height="16" fill="#fff"/>
<rect x="1180" y="247" width="1" height="11" fill="#000"/>
<rect x="1179" y="253" width="3" height="3" fill="#000"/>
<rect x="1184" y="250" width="1" height="10" fill="#000"/>
<rect x="1183" y="254" width="3" height="6" fill="#000"/>
<rect x="1188" y="257" width="1" height="11" fill="#000"/>
<rect x="1187" y="257" width="3" height="3" fill="#000"/>
<rect x="1188" y="258" width="1" height="1" fill="#fff"/>
<rect x="1192" y="249" width="1" height="11" fill="#000"/>
<rect x="1191" y="257" width="3" height="1" fill="#000"/>
<rect x="1196" y="247" width="1" height="9" fill="#000"/>
<rect x="1195" y="249" width="3" height="7" fill="#000"/>
<rect x="1196" y="250" width="1" height="5" fill="#fff"/>
<rect x="1200" y="258" width="1" height="25" fill="#000"/>
<rect x="1199" y="260" width="3" height="12" fill="#000"/>
<rect x="1204" y="260" width="1" height="16" fill="#000"/>
<rect x="1203" y="264" width="3" height="8" fill="#000"/>
<rect x="1204" y="265" width="1" height="6" fill="#fff"/>
<rect x="1208" y="247" width="1" height="17" fill="#000"/>
<rect x="1207" y="257" width="3" height="7" fill="#000"/>
<rect x="1208" y="258" width="1" height="5" fill="#fff"/>
<rect x="1212" y="250" width="1" height="14" fill="#000"/>
<rect x="1211" y="254" width="3" height="9" fill="#000"/>
<rect x="1216" y="261" width="1" height="9" fill="#000"/>
<rect x="1215" y="261" width="3" height="1" fill="#000"/>
<rect x="1220" y="246" width="1" height="27" fill="#000"/>
<rect x="1219" y="261" width="3" height="3" fill="#000"/>
<rect x="1224" y="258" width="1" height="10" fill="#000"/>
<rect x="1223" y="264" width="3" height="4" fill="#000"/>
<rect x="1228" y="235" width="1" height="27" fill="#000"/>
<rect x="1227" y="241" width="3" height="15" fill="#000"/>
<rect x="1228" y="242" width="1" height="13" fill="#fff"/>
<rect x="1232" y="222" width="1" height="25" fill="#000"/>
<rect x="1231" y="226" width="3" height="16" fill="#000"/>
<rect x="1232" y="227" width="1" height="14" fill="#fff"/>
<rect x="1236" y="221" width="1" height="10" fill="#000"/>
<rect x="1235" y="225" width="3" height="3" fill="#000"/>
<rect x="1240" y="220" width="1" height="9" fill="#000"/>
<rect x="1239" y="220" width="3" height="7" fill="#000"/>
<rect x="1240" y="221" width="1" height="5" fill="#fff"/>
<rect x="1244" y="209" width="1" height="13" fill="#000"/>
<rect x="1243" y="212" width="3" height="9" fill="#000"/>
<rect x="1244" y="213" width="1" height="7" fill="#fff"/>
<rect x="1248" y="209" width="1" height="9" fill="#000"/>
<rect x="1247" y="212" width="3" height="4" fill="#000"/>
<rect x="1252" y="215" width="1" height="11" fill="#000"/>
<rect x="1251" y="215" width="3" height="8" fill="#000"/>
<rect x="1256" y="182" width="1" height="27" fill="#000"/>
<rect x="1255" y="192" width="3" height="12" fill="#000"/>
<rect x="1260" y="197" width="1" height="28" fill="#000"/>
<rect x="1259" y="202" width="3" height="18" fill="#000"/>
<rect x="1264" y="215" width="1" height="6" fill="#000"/>
<rect x="1263" y="215" width="3" height="5" fill="#000"/>
<rect x="1264" y="216" width="1" height="3" fill="#fff"/>
<rect x="1268" y="211" width="1" height="26" fill="#000"/>
<rect x="1267" y="215" width="3" height="19" fill="#000"/>
<rect x="1272" y="232" width="1" height="15" fill="#000"/>
<rect x="1271" y="233" width="3" height="12" fill="#000"/>
<rect x="1276" y="237" width="1" height="13" fill="#000"/>
<rect x="1275" y="244" width="3" height="1" fill="#000"/>
<rect x="1280" y="240" width="1" height="9" fill="#000"/>
<rect x="1279" y="241" width="3" height="3" fill="#000"/>
<rect x="1280" y="242" width="1" height="1" fill="#fff"/>
<rect x="1284" y="221" width="1" height="27" fill="#000"/>
<rect x="1283" y="221" width="3" height="16" fill="#000"/>
<rect x="1288" y="211" width="1" height="27" fill="#000"/>
<rect x="1287" y="215" width="3" height="21" fill="#000"/>
<rect x="1288" y="216" width="1" height="19" fill="#fff"/>
<rect x="1292" y="209" width="1" height="13" fill="#000"/>
<rect x="1291" y="214" width="3" height="4" fill="#000"/>
<rect x="1296" y="217" width="1" height="19" fill="#000"/>
<rect x="1295" y="217" width="3" height="13" fill="#000"/>
<rect x="1300" y="220" width="1" height="13" fill="#000"/>
<rect x="1299" y="228" width="3" height="3" fill="#000"/>
<rect x="1300" y="229" width="1" height="1" fill="#fff"/>
<rect x="1304" y="224" width="1" height="10" fill="#000"/>
<rect x="1303" y="226" width="3" height="3" fill="#000"/>
<rect x="1304" y="227" width="1" height="1" fill="#fff"/>
<rect x="1308" y="225" width="1" height="19" fill="#000"/>
<rect x="1307" y="226" width="3" height="8" fill="#000"/>
<rect x="1312" y="142" width="1" height="31" fill="#000"/>
<rect x="1311" y="143" width="3" height="15" fill="#000"/>
<rect x="1312" y="144" width="1" height="13" fill="#fff"/>
<rect x="1316" y="137" width="1" height="13" fill="#000"/>
<rect x="1315" y="142" width="3" height="3" fill="#000"/>
<rect x="1316" y="143" width="1" height="1" fill="#fff"/>
<rect x="1320" y="136" width="1" height="10" fill="#000"/>
<rect x="1319" y="141" width="3" height="1" fill="#000"/>
<rect x="1324" y="142" width="1" height="25" fill="#000"/>
<rect x="1323" y="143" width="3" height="10" fill="#000"/>
<rect x="1328" y="144" width="1" height="11" fill="#000"/>
<rect x="1327" y="150" width="3" height="3" fill="#000"/>
<rect x="1328" y="151" width="1" height="1" fill="#fff"/>
<rect x="1332" y="144" width="1" height="10" fill="#000"/>
<rect x="1331" y="150" width="3" height="1" fill="#000"/>
<rect x="1336" y="141" width="1" height="12" fill="#000"/>
<rect x="1335" y="141" width="3" height="10" fill="#000"/>
<rect x="1336" y="142" width="1" height="8" fill="#fff"/>
<rect x="1340" y="151" width="1" height="20" fill="#000"/>
<rect x="1339" y="160" width="3" height="4" fill="#000"/>
<rect x="1340" y="161" width="1" height="2" fill="#fff"/>
<rect x="1344" y="149" width="1" height="17" fill="#000"/>
<rect x="1343" y="158" width="3" height="2" fill="#000"/>
<rect x="1348" y="152" width="1" height="8" fill="#000"/>
<rect x="1347" y="157" width="3" height="3" fill="#000"/>
<rect x="1348" y="158" width="1" height="1" fill="#fff"/>
<rect x="1352" y="159" width="1" height="13" fill="#000"/>
<rect x="1351" y="159" width="3" height="7" fill="#000"/>
<rect x="1356" y="151" width="1" height="17" fill="#000"/>
<rect x="1355" y="156" width="3" height="10" fill="#000"/>
<rect x="1356" y="157" width="1" height="8" fill="#fff"/>
<rect x="1360" y="144" width="1" height="15" fill="#000"/>
<rect x="1359" y="146" width="3" height="11" fill="#000"/>
<rect x="1360" y="147" width="1" height="9" fill="#fff"/>
<rect x="1364" y="140" width="1" height="7" fill="#000"/>
<rect x="1363" y="143" width="3" height="4" fill="#000"/>
<rect x="1364" y="144" width="1" height="2" fill="#fff"/>
<rect x="1368" y="183" width="1" height="27" fill="#000"/>
<rect x="1367" y="191" width="3" height="12" fill="#000"/>
<rect x="1368" y="192" width="1" height="10" fill="#fff"/>
<rect x="1372" y="183" width="1" height="12" fill="#000"/>
<rect x="1371" y="189" width="3" height="3" fill="#000"/>
<rect x="1372" y="190" width="1" height="1" fill="#fff"/>
<rect x="1376" y="187" width="1" height="9" fill="#000"/>
<rect x="1375" y="189" width="3" height="3" fill="#000"/>
<rect x="1380" y="191" width="1" height="13" fill="#000"/>
<rect x="1379" y="191" width="3" height="7" fill="#000"/>
<rect x="1384" y="193" width="1" height="11" fill="#000"/>
<rect x="1383" y="194" width="3" height="4" fill="#000"/>
<rect x="1384" y="195" width="1" height="2" fill="#fff"/>
<rect x="1388" y="192" width="1" height="8" fill="#000"/>
<rect x="1387" y="193" width="3" height="1" fill="#000"/>
<rect x="1392" y="193" width="1" height="14" fill="#000"/>
<rect x="1391" y="194" width="3" height="13" fill="#000"/>
<rect x="1396" y="239" width="1" height="46" fill="#000"/>
<rect x="1395" y="239" width="3" height="37" fill="#000"/>
<rect x="1400" y="269" width="1" height="25" fill="#000"/>
<rect x="1399" y="275" width="3" height="18" fill="#000"/>
<rect x="1404" y="281" width="1" height="16" fill="#000"/>
<rect x="1403" y="288" width="3" height="4" fill="#000"/>
<rect x="1404" y="289" width="1" height="2" fill="#fff"/>
<rect x="1408" y="282" width="1" height="10" fill="#000"/>
<rect x="1407" y="290" width="3" height="1" fill="#000"/>
<rect x="1412" y="287" width="1" height="12" fill="#000"/>
<rect x="1411" y="289" width="3" height="1" fill="#000"/>
<rect x="1416" y="276" width="1" height="14" fill="#000"/>
<rect x="1415" y="278" width="3" height="12" fill="#000"/>
<rect x="1416" y="279" width="1" height="10" fill="#fff"/>
<rect x="1420" y="276" width="1" height="8" fill="#000"/>
<rect x="1419" y="278" width="3" height="2" fill="#000"/>
<rect x="0" y="98" width="2" height="12" fill="#000"/>
<rect x="0" y="101" width="2" height="1" fill="#fff"/>
<rect x="0" y="104" width="2" height="1" fill="#fff"/>
<rect x="0" y="210" width="1588" height="1" fill="#ff0000"/>
<rect x="0.5" y="208.5" width="4" height="4" fill="#fff" stroke="#ff0000" stroke-width="1"/>
<rect x="1583.5" y="208.5" width="4" height="4" fill="#fff" stroke="#ff0000" stroke-width="1"/>
<rect x="0" y="256" width="1588" height="1" fill="#ff0000"/>
<rect x="0.5" y="254.5" width="4" height="4" fill="#fff" stroke="#ff0000" stroke-width="1"/>
<rect x="1583.5" y="254.5" width="4" height="4" fill="#fff" stroke="#ff0000" stroke-width="1"/>
<rect x="0" y="327" width="1588" height="1" fill="#008000"/>
<rect x="0.5" y="325.5" width="4" height="4" fill="#fff" stroke="#008000" stroke-width="1"/>
<rect x="1583.5" y="325.5" width="4" height="4" fill="#fff" stroke="#008000" stroke-width="1"/>
<rect x="0" y="376" width="1588" height="1" fill="#0000ff"/>
<rect x="0.5" y="374.5" width="4" height="4" fill="#fff" stroke="#0000ff" stroke-width="1"/>
<rect x="1583.5" y="374.5" width="4" height="4" fill="#fff" stroke="#0000ff" stroke-width="1"/>
<rect x="0" y="436" width="1588" height="1" fill="#0000ff"/>
<rect x="0.5" y="434.5" width="4" height="4" fill="#fff" stroke="#0000ff" stroke-width="1"/>
<rect x="1583.5" y="434.5" width="4" height="4" fill="#fff" stroke="#0000ff" stroke-width="1"/>
<rect x="1103" y="322" width="176" height="10" fill="#00ff00"/>
<rect x="0" y="26" width="1589" height="1" fill="#000"/>
<rect x="1588" y="26" width="1" height="777" fill="#000"/>
<rect x="0" y="491" width="1589" height="1" fill="#000"/>
<rect x="0" y="493" width="1589" height="1" fill="#000"/>
<rect x="0" y="666" width="1589" height="1" fill="#000"/>
<rect x="0" y="668" width="1589" height="1" fill="#000"/>
<rect x="0" y="802" width="1589" height="1" fill="#000"/>
<polygon points="1422,27 1433,27 1427.5,32.5" fill="#a9a9a9"/>
<rect x="1631" y="24" width="1" height="795" fill="#e3e3e3"/>
<rect x="1589" y="58" width="2" height="1" fill="#000"/>
<rect x="1589" y="92" width="2" height="1" fill="#000"/>
<rect x="1589" y="124" width="2" height="1" fill="#000"/>
<rect x="1589" y="158" width="2" height="1" fill="#000"/>
<rect x="1589" y="191" width="2" height="1" fill="#000"/>
<rect x="1589" y="224" width="2" height="1" fill="#000"/>
<rect x="1589" y="291" width="2" height="1" fill="#000"/>
<rect x="1589" y="356" width="2" height="1" fill="#000"/>
<rect x="1589" y="390" width="2" height="1" fill="#000"/>
<rect x="1589" y="422" width="2" height="1" fill="#000"/>
<rect x="1589" y="456" width="2" height="1" fill="#000"/>
<rect x="1589" y="488" width="2" height="1" fill="#000"/>
<rect x="1589" y="495" width="2" height="1" fill="#000"/>
<rect x="1589" y="586" width="2" height="1" fill="#000"/>
<rect x="1589" y="665" width="2" height="1" fill="#000"/>
<rect x="1589" y="670" width="2" height="1" fill="#000"/>
<rect x="1589" y="801" width="2" height="1" fill="#000"/>
</svg>
<div class="t" style="left:1594px;top:55px;">27951.0</div>
<div class="t" style="left:1594px;top:89px;">27679.0</div>
<div class="t" style="left:1594px;top:121px;">27415.0</div>
<div class="t" style="left:1594px;top:155px;">27143.0</div>
<div class="t" style="left:1594px;top:188px;">26871.0</div>
<div class="t" style="left:1594px;top:221px;">26607.0</div>
<div class="t" style="left:1594px;top:288px;">26063.0</div>
<div class="t" style="left:1594px;top:353px;">25527.0</div>
<div class="t" style="left:1594px;top:387px;">25255.0</div>
<div class="t" style="left:1594px;top:419px;">24991.0</div>
<div class="t" style="left:1594px;top:453px;">24719.0</div>
<div class="t" style="left:1594px;top:485px;">24455.0</div>
<div class="t" style="left:1592px;top:497px;">437.09</div>
<div class="t" style="left:1594px;top:583px;">0.00</div>
<div class="t" style="left:1592px;top:656px;">-382.11</div>
<div class="t" style="left:1592px;top:672px;">100</div>
<div class="t" style="left:1591px;top:693px;">80</div>
<div class="t" style="left:1591px;top:732px;">50</div>
<div class="t" style="left:1591px;top:779px;">15</div>
<div class="t" style="left:1592px;top:792px;">0</div>
<div class="lb" style="top:204px;background:#ff0000"><span>26716.8</span></div>
<div class="lb" style="top:250px;background:#ff0000"><span>26342.8</span></div>
<div class="lb" style="top:274px;background:#000"><span>26152.0</span></div>
<div class="lb" style="top:321px;background:#008000"><span>25766.5</span></div>
<div class="lb" style="top:370px;background:#0000ff"><span>25367.3</span></div>
<div class="lb" style="top:430px;background:#0000ff"><span>24879.5</span></div>
<svg width="20" height="45" viewBox="0 0 20 45"><polygon points="3,37 10,37 6.5,32.6" fill="#000"/></svg>
<div class="t" style="left:15px;top:31px;letter-spacing:0.35px">HK50-,H1</div>
<div class="t" style="left:62.5px;top:31px">26164.5</div>
<div class="t" style="left:98.6px;top:31px">26181.5</div>
<div class="t" style="left:134.7px;top:31px">26126.5</div>
<div class="t" style="left:170.8px;top:31px">26152.0</div>
<div class="t" style="left:4px;top:499px;letter-spacing:0.25px">MACD(12,26,9) -210.44 -113.23</div>
<div class="t" style="left:4px;top:674px;letter-spacing:0.2px">RSI(14) 31.3382</div>
<div class="t" style="left:-1px;top:808px;letter-spacing:0.18px">24 Sep 2018</div>
<div class="t" style="left:63px;top:808px;letter-spacing:0.18px">27 Sep 05:00</div>
<div class="t" style="left:127px;top:808px;letter-spacing:0.18px">2 Oct 07:00</div>
<div class="t" style="left:191px;top:808px;letter-spacing:0.18px">5 Oct 01:15</div>
<div class="t" style="left:255px;top:808px;letter-spacing:0.18px">9 Oct 03:15</div>
<div class="t" style="left:319px;top:808px;letter-spacing:0.18px">11 Oct 06:00</div>
<div class="t" style="left:383px;top:808px;letter-spacing:0.18px">15 Oct 08:00</div>
<div class="t" style="left:447px;top:808px;letter-spacing:0.18px">19 Oct 02:15</div>
<div class="t" style="left:511px;top:808px;letter-spacing:0.18px">23 Oct 05:00</div>
<div class="t" style="left:575px;top:808px;letter-spacing:0.18px">25 Oct 07:00</div>
<div class="t" style="left:639px;top:808px;letter-spacing:0.18px">30 Oct 01:15</div>
<div class="t" style="left:703px;top:808px;letter-spacing:0.18px">1 Nov 03:15</div>
<div class="t" style="left:767px;top:808px;letter-spacing:0.18px">5 Nov 06:00</div>
<div class="t" style="left:831px;top:808px;letter-spacing:0.18px">7 Nov 08:00</div>
<div class="t" style="left:895px;top:808px;letter-spacing:0.18px">12 Nov 02:15</div>
<div class="t" style="left:959px;top:808px;letter-spacing:0.18px">14 Nov 05:00</div>
<div class="t" style="left:1023px;top:808px;letter-spacing:0.18px">16 Nov 07:00</div>
<div class="t" style="left:1087px;top:808px;letter-spacing:0.18px">21 Nov 01:15</div>
<div class="t" style="left:1151px;top:808px;letter-spacing:0.18px">23 Nov 03:15</div>
<div class="t" style="left:1215px;top:808px;letter-spacing:0.18px">27 Nov 06:00</div>
<div class="t" style="left:1279px;top:808px;letter-spacing:0.18px">29 Nov 08:00</div>
<div class="t" style="left:1343px;top:808px;letter-spacing:0.18px">4 Dec 02:15</div>
<div class="t" style="left:1407px;top:808px;letter-spacing:0.18px">6 Dec 05:00</div>
<div style="position:absolute;left:2px;top:44px;width:223px;height:68px;background:#fff"></div>
<div style="position:absolute;left:3px;top:46px;width:219px;height:64px;background:linear-gradient(#f75757,#e23838 37%,#b30000);
 clip-path:polygon(0 0,52px 0,52px 24px,167px 24px,167px 0,219px 0,219px 64px,111px 64px,111px 24px,109px 24px,109px 64px,0 64px)"></div>
<div style="position:absolute;left:3px;top:46px;width:50px;height:23px;border:1px solid #c41919;border-bottom:none"></div>
<div style="position:absolute;left:170px;top:46px;width:50px;height:23px;border:1px solid #c41919;border-bottom:none"></div>
<div style="position:absolute;left:3px;top:70px;width:109px;height:1px;background:#c41919"></div>
<div style="position:absolute;left:114px;top:70px;width:108px;height:1px;background:#c41919"></div>
<div style="position:absolute;left:7px;top:69px;width:44px;height:1px;background:#a80000"></div>
<div style="position:absolute;left:7px;top:70px;width:44px;height:1px;background:#f08080"></div>
<div style="position:absolute;left:174px;top:69px;width:44px;height:1px;background:#a80000"></div>
<div style="position:absolute;left:174px;top:70px;width:44px;height:1px;background:#f08080"></div>
<div class="t n" style="left:15px;top:51px;font-size:12px;line-height:14px;color:#fff;letter-spacing:-0.8px">SELL</div>
<div class="t n" style="left:183.5px;top:51px;font-size:12px;line-height:14px;color:#fff;letter-spacing:-0.5px">BUY</div>
<div class="t n" style="left:19px;top:89.6px;font-size:12px;line-height:14px;color:#fff;font-weight:bold;letter-spacing:0.5px">26150</div>
<div class="t n" style="left:129px;top:89.6px;font-size:12px;line-height:14px;color:#fff;font-weight:bold;letter-spacing:0.5px">26165</div>
<div style="position:absolute;left:58.4px;top:96.4px;width:4.2px;height:4.2px;background:#fff"></div>
<div style="position:absolute;left:169px;top:96.4px;width:4.2px;height:4.2px;background:#fff"></div>
<div class="t n" style="left:64px;top:73px;font-size:33.5px;line-height:36px;color:#fff;transform:scaleX(0.98);transform-origin:0 0;">5</div>
<div class="t n" style="left:174.8px;top:73px;font-size:33.5px;line-height:36px;color:#fff;transform:scaleX(0.98);transform-origin:0 0;">5</div>
<div style="position:absolute;left:57px;top:46px;width:109px;height:20px;border:1px solid #a6aab4;background:#fff"></div>
<div style="position:absolute;left:58px;top:47px;width:20px;height:20px;background:linear-gradient(#ebebeb,#e2e2e2 50%,#d2d2d2 50%,#cfcfcf);box-shadow:inset 0 0 0 1px #f6f6f6"></div>
<div style="position:absolute;left:78px;top:47px;width:1px;height:20px;background:#a6aab4"></div>
<div style="position:absolute;left:146px;top:47px;width:1px;height:20px;background:#a6aab4"></div>
<div style="position:absolute;left:147px;top:47px;width:20px;height:20px;background:linear-gradient(#ebebeb,#e2e2e2 50%,#d2d2d2 50%,#cfcfcf);box-shadow:inset 0 0 0 1px #f6f6f6"></div>
<svg width="230" height="115" viewBox="0 0 230 115"><polygon points="65,55 70.2,55 67.6,58" fill="#5560c8"/><polygon points="154,58 159.4,58 156.7,55" fill="#5560c8"/></svg>
<div class="t n" style="left:100px;top:50px;width:43px;text-align:right;font-size:12px;line-height:14px;">1.00</div>
<svg width="1633" height="22" viewBox="0 0 1633 22">
<rect x="170" y="0" width="23" height="21" fill="#f8f8f8"/>
<rect x="320" y="0" width="26" height="21" fill="#f8f8f8"/>
<rect x="350" y="0" width="25" height="21" fill="#f8f8f8"/>
<rect x="510" y="0" width="24" height="21" fill="#f8f8f8"/>
<rect x="927" y="0" width="25" height="21" fill="#f8f8f8"/>
<rect x="130" y="0" width="1" height="20" fill="#a0a0a0"/>
<rect x="168" y="0" width="1" height="20" fill="#a0a0a0"/>
<rect x="225" y="0" width="1" height="20" fill="#a0a0a0"/>
<rect x="315" y="0" width="1" height="20" fill="#a0a0a0"/>
<rect x="348" y="0" width="1" height="20" fill="#a0a0a0"/>
<rect x="377" y="0" width="1" height="20" fill="#a0a0a0"/>
<rect x="498" y="0" width="1" height="20" fill="#a0a0a0"/>
<rect x="508" y="0" width="1" height="20" fill="#a0a0a0"/>
<rect x="565" y="0" width="1" height="20" fill="#a0a0a0"/>
<rect x="804" y="0" width="1" height="20" fill="#a0a0a0"/>
<rect x="926" y="0" width="1" height="20" fill="#a0a0a0"/>
<rect x="1065" y="0" width="1" height="20" fill="#a0a0a0"/>
<rect x="134" y="1" width="3" height="1" fill="#b4b4b4"/>
<rect x="134" y="3" width="3" height="1" fill="#b4b4b4"/>
<rect x="134" y="5" width="3" height="1" fill="#b4b4b4"/>
<rect x="134" y="7" width="3" height="1" fill="#b4b4b4"/>
<rect x="134" y="9" width="3" height="1" fill="#b4b4b4"/>
<rect x="134" y="11" width="3" height="1" fill="#b4b4b4"/>
<rect x="134" y="13" width="3" height="1" fill="#b4b4b4"/>
<rect x="134" y="15" width="3" height="1" fill="#b4b4b4"/>
<rect x="134" y="17" width="3" height="1" fill="#b4b4b4"/>
<rect x="134" y="19" width="3" height="1" fill="#b4b4b4"/>
<rect x="502" y="1" width="3" height="1" fill="#b4b4b4"/>
<rect x="502" y="3" width="3" height="1" fill="#b4b4b4"/>
<rect x="502" y="5" width="3" height="1" fill="#b4b4b4"/>
<rect x="502" y="7" width="3" height="1" fill="#b4b4b4"/>
<rect x="502" y="9" width="3" height="1" fill="#b4b4b4"/>
<rect x="502" y="11" width="3" height="1" fill="#b4b4b4"/>
<rect x="502" y="13" width="3" height="1" fill="#b4b4b4"/>
<rect x="502" y="15" width="3" height="1" fill="#b4b4b4"/>
<rect x="502" y="17" width="3" height="1" fill="#b4b4b4"/>
<rect x="502" y="19" width="3" height="1" fill="#b4b4b4"/>
<rect x="808" y="1" width="3" height="1" fill="#b4b4b4"/>
<rect x="808" y="3" width="3" height="1" fill="#b4b4b4"/>
<rect x="808" y="5" width="3" height="1" fill="#b4b4b4"/>
<rect x="808" y="7" width="3" height="1" fill="#b4b4b4"/>
<rect x="808" y="9" width="3" height="1" fill="#b4b4b4"/>
<rect x="808" y="11" width="3" height="1" fill="#b4b4b4"/>
<rect x="808" y="13" width="3" height="1" fill="#b4b4b4"/>
<rect x="808" y="15" width="3" height="1" fill="#b4b4b4"/>
<rect x="808" y="17" width="3" height="1" fill="#b4b4b4"/>
<rect x="808" y="19" width="3" height="1" fill="#b4b4b4"/>
<text x="-9.2 2.8" y="13.6" font-family='"Liberation Sans", "Noto Sans CJK SC", sans-serif' font-size="12.2" fill="#000">订单</text>
<text x="74.9 86.9 98.9 110.9" y="13.6" font-family='"Liberation Sans", "Noto Sans CJK SC", sans-serif' font-size="12.2" fill="#000">自动交易</text>
<defs><linearGradient id="bk" x1="0" y1="0" x2="1" y2="1"><stop offset="0" stop-color="#eaa80c"/><stop offset="0.5" stop-color="#f8d434"/><stop offset="1" stop-color="#d49210"/></linearGradient><linearGradient id="ht" x1="0" y1="0" x2="0" y2="1"><stop offset="0" stop-color="#8ccdf2"/><stop offset="1" stop-color="#3f9bd4"/></linearGradient><linearGradient id="fc" x1="0" y1="0" x2="1" y2="1"><stop offset="0" stop-color="#fff08a"/><stop offset="1" stop-color="#e8b418"/></linearGradient><radialGradient id="rd" cx="0.45" cy="0.4" r="0.6"><stop offset="0" stop-color="#ff3a10"/><stop offset="1" stop-color="#b81400"/></radialGradient></defs>
<path d="M32.5,3.2 L42.3,9.9 L43,12.2 L34.8,17.7 L27.1,11.8 Q30.2,9.3 31.3,6.9 Z" fill="#bc8216" stroke="#a06408" stroke-width="0.9" stroke-linejoin="round"/>
<path d="M32.9,4.3 L41.4,10.1 L34.6,14.8 L28.7,10.8 Q31,8.6 32,6.5 Z" fill="url(#bk)"/>
<path d="M27.6,11.8 L28.7,10.8 L34.6,14.8 L34.7,17.1 Z" fill="#f0cc60"/>
<path d="M34.6,14.8 L41.4,10.1 L42.6,12.1 L34.8,17.2 Z" fill="#d8c48a"/><path d="M34.9,15.8 L42,11.1 M34.9,16.6 L42.4,11.7" stroke="#a88838" stroke-width="0.35"/>
<path d="M54.3,9.4 L69.8,8.6 L63.6,17.8 L61.6,17.8 Z" fill="url(#fc)" stroke="#d4a414" stroke-width="0.7" stroke-linejoin="round"/>
<ellipse cx="62" cy="7" rx="8.1" ry="2.5" fill="url(#ht)" stroke="#2a86c0" stroke-width="0.7"/>
<path d="M58,6.8 Q58.3,2.2 62.2,2.1 Q66,2.2 66.4,6.8 Z" fill="url(#ht)" stroke="#2a86c0" stroke-width="0.6"/>
<path d="M66.8,7.6 Q68.4,7.2 69.2,6.4" stroke="#d8f0ff" stroke-width="0.8" fill="none"/>
<circle cx="66.4" cy="13.7" r="3.95" fill="url(#rd)"/><rect x="65.2" y="12.5" width="2.5" height="2.5" fill="#fff"/>
<path d="M148.5,17.5 V4.5 M146,15.5 H159" stroke="#505050" stroke-width="1.2" fill="none"/><polygon points="146.8,6.5 148.5,3.5 150.2,6.5" fill="#505050"/><polygon points="157.5,13.8 160.5,15.5 157.5,17.2" fill="#505050"/>
<path d="M152,12.5 H154.5 V6 H157.5" stroke="#22a022" stroke-width="1.3" fill="none"/>
<path d="M176.5,17.5 V4.5 M174,15.5 H187" stroke="#505050" stroke-width="1.2" fill="none"/><polygon points="174.8,6.5 176.5,3.5 178.2,6.5" fill="#505050"/><polygon points="185.5,13.8 188.5,15.5 185.5,17.2" fill="#505050"/>
<path d="M182.6,2 V13.5" stroke="#189018" stroke-width="1.2"/><rect x="180.5" y="4.3" width="4.4" height="7.3" fill="#33cc33" stroke="#189018" stroke-width="0.8"/>
<path d="M204.5,17.5 V4.5 M202,15.5 H215" stroke="#505050" stroke-width="1.2" fill="none"/><polygon points="202.8,6.5 204.5,3.5 206.2,6.5" fill="#505050"/><polygon points="213.5,13.8 216.5,15.5 213.5,17.2" fill="#505050"/>
<path d="M204.5,12.5 Q209,5 211,7 T216,11.5" stroke="#22a022" stroke-width="1.2" fill="none"/>
<path d="M243.5,12 L249.0,17" stroke="#c8a020" stroke-width="2.6" stroke-linecap="round"/><circle cx="239.5" cy="8" r="5" fill="#d4ecff" stroke="#5090d0" stroke-width="1.3"/><path d="M236.7,8 H242.3" stroke="#2a62b8" stroke-width="1.6"/><path d="M239.5,5.2 V10.8" stroke="#2a62b8" stroke-width="1.6"/>
<path d="M271.5,12 L277.0,17" stroke="#c8a020" stroke-width="2.6" stroke-linecap="round"/><circle cx="267.5" cy="8" r="5" fill="#d4ecff" stroke="#5090d0" stroke-width="1.3"/><path d="M264.7,8 H270.3" stroke="#2a62b8" stroke-width="1.6"/>
<rect x="290" y="2" width="8" height="8" fill="#48a028"/>
<rect x="291.5" y="5" width="5" height="1.3" fill="#fff"/><rect x="291.5" y="7.3" width="5" height="1.8" fill="#e8f0ff"/>
<rect x="298" y="2" width="8" height="8" fill="#2050c8"/>
<rect x="299.5" y="5" width="5" height="1.3" fill="#fff"/><rect x="299.5" y="7.3" width="5" height="1.8" fill="#e8f0ff"/>
<rect x="290" y="10" width="8" height="8" fill="#2050c8"/>
<rect x="291.5" y="13" width="5" height="1.3" fill="#fff"/><rect x="291.5" y="15.3" width="5" height="1.8" fill="#e8f0ff"/>
<rect x="298" y="10" width="8" height="8" fill="#48a028"/>
<rect x="299.5" y="13" width="5" height="1.3" fill="#fff"/><rect x="299.5" y="15.3" width="5" height="1.8" fill="#e8f0ff"/>
<path d="M328.5,17.5 V4.5 M326,15.5 H339" stroke="#505050" stroke-width="1.2" fill="none"/><polygon points="326.8,6.5 328.5,3.5 330.2,6.5" fill="#505050"/><polygon points="337.5,13.8 340.5,15.5 337.5,17.2" fill="#505050"/>
<polygon points="333.3,6.8 337.5,9.5 333.3,12.2" fill="#30c030" stroke="#189018" stroke-width="0.7"/>
<path d="M356.5,17.5 V4.5 M354,15.5 H367" stroke="#505050" stroke-width="1.2" fill="none"/><polygon points="354.8,6.5 356.5,3.5 358.2,6.5" fill="#505050"/><polygon points="365.5,13.8 368.5,15.5 365.5,17.2" fill="#505050"/>
<path d="M362.7,4 V13.5" stroke="#2070b0" stroke-width="1.2"/><path d="M364,9.5 H368.3 M366.5,7.5 L364,9.5 L366.5,11.5" stroke="#cc3300" stroke-width="1.2" fill="none"/>
<path d="M387.5,3.5 H395 L398,6.5 V15.5 H387.5 Z" fill="#fff" stroke="#808080" stroke-width="1"/><path d="M390,6 V12 M390,9 H392" stroke="#606060" stroke-width="1"/>
<path d="M397,9.5 V19.5 M392,14.5 H402" stroke="#109010" stroke-width="4"/><path d="M397,10.3 V18.7 M392.8,14.5 H401.2" stroke="#30e030" stroke-width="2.4"/>
<polygon points="409,9 414.4,9 411.7,12" fill="#000"/>
<polygon points="447.5,9 452.9,9 450.2,12" fill="#000"/>
<polygon points="487,9 492.4,9 489.7,12" fill="#000"/>
<polygon points="792.8,9 798.1999999999999,9 795.5,12" fill="#000"/>
<circle cx="432.8" cy="9.8" r="7.8" fill="#2a62c8"/><circle cx="432.8" cy="9.8" r="5.4" fill="#f4f8ff"/><circle cx="432.8" cy="8" r="6" fill="none" stroke="#7ab0f0" stroke-width="0.8" opacity="0.7"/>
<path d="M432.8,6 V10 H435.6" stroke="#404040" stroke-width="1" fill="none"/>
<rect x="464.5" y="3.5" width="15.5" height="13" fill="#fff" stroke="#3a6ed0" stroke-width="1.1"/><rect x="464.5" y="3.5" width="15.5" height="2.6" fill="#4a80e0"/><path d="M465,11.2 H480" stroke="#3a6ed0" stroke-width="1"/>
<path d="M466.5,9.5 L469.5,8 L472,9 L475,7.2 L478,8.4" stroke="#a02000" stroke-width="1.1" fill="none"/><path d="M466.5,14.6 L469.5,13.2 L472,14.6 L475,12.6 L478,14" stroke="#109010" stroke-width="1.1" fill="none"/>
<polygon points="516,3 516,14.2 518.7,11.8 521,17 523,16.1 520.8,11 524.5,10.8" fill="#404040"/>
<path d="M541,10.4 H547 M550,10.4 H556 M548.5,3 V8.7 M548.5,12 V18" stroke="#505050" stroke-width="1.1"/>
<path d="M582.8,4 V17" stroke="#505050" stroke-width="1.4"/><path d="M605,10.4 H617" stroke="#505050" stroke-width="1.4"/><path d="M633,17 L645,5" stroke="#606060" stroke-width="1.2"/>
<path d="M659,13.5 L672,4 M661.5,16.5 L673.5,8 M662,9 V16 M665.5,6.5 V14 M669,4.5 V11.5 M672,2.5 V9.5" stroke="#505050" stroke-width="0.9" fill="none"/>
<text x="669.8" y="18.6" font-family='"Liberation Sans", sans-serif' font-size="7" font-weight="bold" fill="#404040">E</text>
<path d="M688,3.5 H701" stroke="#505050" stroke-width="1" stroke-dasharray="1 1"/>
<path d="M688,6.2 H701" stroke="#505050" stroke-width="1" stroke-dasharray="1 1"/>
<path d="M688,10.5 H701" stroke="#505050" stroke-width="1" stroke-dasharray="1 1"/>
<path d="M688,14.5 H696" stroke="#505050" stroke-width="1" stroke-dasharray="1 1"/>
<text x="697.8" y="18.6" font-family='"Liberation Sans", sans-serif' font-size="7" font-weight="bold" fill="#404040">F</text>
<text x="718.2" y="14.7" font-family='"Liberation Sans", sans-serif' font-size="12" font-weight="bold" fill="#606060">A</text>
<rect x="745.5" y="4" width="11" height="12.2" fill="none" stroke="#505050" stroke-width="1" stroke-dasharray="1 1"/>
<text x="747.3" y="14.3" font-family='"Liberation Sans", sans-serif' font-size="10.5" font-weight="bold" fill="#505050">T</text>
<polygon points="775.5,3.5 778.5,6.5 775.5,9 772.5,6.5" fill="#404040"/><polygon points="783.5,11 786.8,13.8 783.5,17 780.3,13.8" fill="#404040"/><path d="M775,10.5 L777.5,13 L782,7.5" stroke="#404040" stroke-width="1.3" fill="none"/>
<text x="819.6" y="13.8" font-family='"Liberation Sans", sans-serif' font-size="9.2" fill="#404040">M1</text>
<text x="847.5" y="13.8" font-family='"Liberation Sans", sans-serif' font-size="9.2" fill="#404040">M5</text>
<text x="873.7" y="13.8" font-family='"Liberation Sans", sans-serif' font-size="9.2" fill="#404040">M15</text>
<text x="901.5" y="13.8" font-family='"Liberation Sans", sans-serif' font-size="9.2" fill="#404040">M30</text>
<text x="932.4" y="13.8" font-family='"Liberation Sans", sans-serif' font-size="9.2" fill="#404040">H1</text>
<text x="959.5" y="13.8" font-family='"Liberation Sans", sans-serif' font-size="9.2" fill="#404040">H4</text>
<text x="988.3" y="13.8" font-family='"Liberation Sans", sans-serif' font-size="9.2" fill="#404040">D1</text>
<text x="1015.5" y="13.8" font-family='"Liberation Sans", sans-serif' font-size="9.2" fill="#404040">W1</text>
<text x="1042.6" y="13.8" font-family='"Liberation Sans", sans-serif' font-size="9.2" fill="#404040">MN</text>
<path d="M1584.6,10.2 L1580.2,14.8" stroke="#2a62d8" stroke-width="2.3" stroke-linecap="round"/><circle cx="1587.6" cy="7.1" r="3.9" fill="#f8f8ff" stroke="#2a5fd8" stroke-width="1.2"/>
<path d="M1622.5,11 L1624,13.5 L1620,11.4" fill="#707070"/><ellipse cx="1620.2" cy="7" rx="6.4" ry="4.5" fill="#eeeeee" stroke="#909090" stroke-width="0.9"/>
<path d="M1609.8,14.2 L1608.5,16.8 L1612.5,14.5" fill="#707070"/><ellipse cx="1611.3" cy="11" rx="5" ry="3.7" fill="#f0f0f0" stroke="#909090" stroke-width="0.9"/>
</svg></body></html>
